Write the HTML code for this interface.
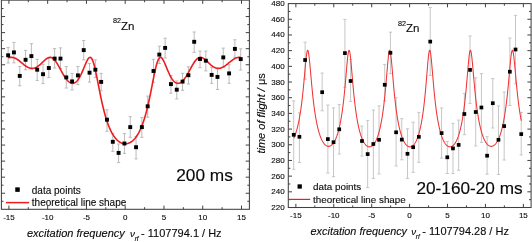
<!DOCTYPE html>
<html><head><meta charset="utf-8"><style>
html,body{margin:0;padding:0;background:#fff;}
svg{display:block;will-change:transform;filter:blur(0.3px);}
text{font-family:"Liberation Sans", sans-serif;fill:#0a0a0a;stroke:#0a0a0a;stroke-width:0.12px;}
</style></head><body>
<svg width="532" height="242" viewBox="0 0 532 242">
<rect width="532" height="242" fill="#fff"/>
<rect x="1.4" y="0.15" width="248" height="209.15" fill="none" stroke="#404040" stroke-width="1.05"/>
<line x1="8.91" y1="209.3" x2="8.91" y2="205.6" stroke="#404040" stroke-width="1.0"/>
<line x1="8.91" y1="0.15" x2="8.91" y2="3.85" stroke="#404040" stroke-width="1.0"/>
<line x1="28.29" y1="209.3" x2="28.29" y2="207.2" stroke="#404040" stroke-width="1.0"/>
<line x1="28.29" y1="0.15" x2="28.29" y2="2.25" stroke="#404040" stroke-width="1.0"/>
<line x1="47.67" y1="209.3" x2="47.67" y2="205.6" stroke="#404040" stroke-width="1.0"/>
<line x1="47.67" y1="0.15" x2="47.67" y2="3.85" stroke="#404040" stroke-width="1.0"/>
<line x1="67.05" y1="209.3" x2="67.05" y2="207.2" stroke="#404040" stroke-width="1.0"/>
<line x1="67.05" y1="0.15" x2="67.05" y2="2.25" stroke="#404040" stroke-width="1.0"/>
<line x1="86.44" y1="209.3" x2="86.44" y2="205.6" stroke="#404040" stroke-width="1.0"/>
<line x1="86.44" y1="0.15" x2="86.44" y2="3.85" stroke="#404040" stroke-width="1.0"/>
<line x1="105.82" y1="209.3" x2="105.82" y2="207.2" stroke="#404040" stroke-width="1.0"/>
<line x1="105.82" y1="0.15" x2="105.82" y2="2.25" stroke="#404040" stroke-width="1.0"/>
<line x1="125.2" y1="209.3" x2="125.2" y2="205.6" stroke="#404040" stroke-width="1.0"/>
<line x1="125.2" y1="0.15" x2="125.2" y2="3.85" stroke="#404040" stroke-width="1.0"/>
<line x1="144.58" y1="209.3" x2="144.58" y2="207.2" stroke="#404040" stroke-width="1.0"/>
<line x1="144.58" y1="0.15" x2="144.58" y2="2.25" stroke="#404040" stroke-width="1.0"/>
<line x1="163.97" y1="209.3" x2="163.97" y2="205.6" stroke="#404040" stroke-width="1.0"/>
<line x1="163.97" y1="0.15" x2="163.97" y2="3.85" stroke="#404040" stroke-width="1.0"/>
<line x1="183.35" y1="209.3" x2="183.35" y2="207.2" stroke="#404040" stroke-width="1.0"/>
<line x1="183.35" y1="0.15" x2="183.35" y2="2.25" stroke="#404040" stroke-width="1.0"/>
<line x1="202.73" y1="209.3" x2="202.73" y2="205.6" stroke="#404040" stroke-width="1.0"/>
<line x1="202.73" y1="0.15" x2="202.73" y2="3.85" stroke="#404040" stroke-width="1.0"/>
<line x1="222.11" y1="209.3" x2="222.11" y2="207.2" stroke="#404040" stroke-width="1.0"/>
<line x1="222.11" y1="0.15" x2="222.11" y2="2.25" stroke="#404040" stroke-width="1.0"/>
<line x1="241.5" y1="209.3" x2="241.5" y2="205.6" stroke="#404040" stroke-width="1.0"/>
<line x1="241.5" y1="0.15" x2="241.5" y2="3.85" stroke="#404040" stroke-width="1.0"/>
<line x1="1.4" y1="8.53" x2="3.5" y2="8.53" stroke="#404040" stroke-width="1.0"/>
<line x1="249.4" y1="8.53" x2="247.3" y2="8.53" stroke="#404040" stroke-width="1.0"/>
<line x1="1.4" y1="16.56" x2="5.1" y2="16.56" stroke="#404040" stroke-width="1.0"/>
<line x1="249.4" y1="16.56" x2="245.7" y2="16.56" stroke="#404040" stroke-width="1.0"/>
<line x1="1.4" y1="24.59" x2="3.5" y2="24.59" stroke="#404040" stroke-width="1.0"/>
<line x1="249.4" y1="24.59" x2="247.3" y2="24.59" stroke="#404040" stroke-width="1.0"/>
<line x1="1.4" y1="32.62" x2="5.1" y2="32.62" stroke="#404040" stroke-width="1.0"/>
<line x1="249.4" y1="32.62" x2="245.7" y2="32.62" stroke="#404040" stroke-width="1.0"/>
<line x1="1.4" y1="40.65" x2="3.5" y2="40.65" stroke="#404040" stroke-width="1.0"/>
<line x1="249.4" y1="40.65" x2="247.3" y2="40.65" stroke="#404040" stroke-width="1.0"/>
<line x1="1.4" y1="48.68" x2="5.1" y2="48.68" stroke="#404040" stroke-width="1.0"/>
<line x1="249.4" y1="48.68" x2="245.7" y2="48.68" stroke="#404040" stroke-width="1.0"/>
<line x1="1.4" y1="56.72" x2="3.5" y2="56.72" stroke="#404040" stroke-width="1.0"/>
<line x1="249.4" y1="56.72" x2="247.3" y2="56.72" stroke="#404040" stroke-width="1.0"/>
<line x1="1.4" y1="64.75" x2="5.1" y2="64.75" stroke="#404040" stroke-width="1.0"/>
<line x1="249.4" y1="64.75" x2="245.7" y2="64.75" stroke="#404040" stroke-width="1.0"/>
<line x1="1.4" y1="72.78" x2="3.5" y2="72.78" stroke="#404040" stroke-width="1.0"/>
<line x1="249.4" y1="72.78" x2="247.3" y2="72.78" stroke="#404040" stroke-width="1.0"/>
<line x1="1.4" y1="80.81" x2="5.1" y2="80.81" stroke="#404040" stroke-width="1.0"/>
<line x1="249.4" y1="80.81" x2="245.7" y2="80.81" stroke="#404040" stroke-width="1.0"/>
<line x1="1.4" y1="88.84" x2="3.5" y2="88.84" stroke="#404040" stroke-width="1.0"/>
<line x1="249.4" y1="88.84" x2="247.3" y2="88.84" stroke="#404040" stroke-width="1.0"/>
<line x1="1.4" y1="96.87" x2="5.1" y2="96.87" stroke="#404040" stroke-width="1.0"/>
<line x1="249.4" y1="96.87" x2="245.7" y2="96.87" stroke="#404040" stroke-width="1.0"/>
<line x1="1.4" y1="104.9" x2="3.5" y2="104.9" stroke="#404040" stroke-width="1.0"/>
<line x1="249.4" y1="104.9" x2="247.3" y2="104.9" stroke="#404040" stroke-width="1.0"/>
<line x1="1.4" y1="112.93" x2="5.1" y2="112.93" stroke="#404040" stroke-width="1.0"/>
<line x1="249.4" y1="112.93" x2="245.7" y2="112.93" stroke="#404040" stroke-width="1.0"/>
<line x1="1.4" y1="120.96" x2="3.5" y2="120.96" stroke="#404040" stroke-width="1.0"/>
<line x1="249.4" y1="120.96" x2="247.3" y2="120.96" stroke="#404040" stroke-width="1.0"/>
<line x1="1.4" y1="128.99" x2="5.1" y2="128.99" stroke="#404040" stroke-width="1.0"/>
<line x1="249.4" y1="128.99" x2="245.7" y2="128.99" stroke="#404040" stroke-width="1.0"/>
<line x1="1.4" y1="137.02" x2="3.5" y2="137.02" stroke="#404040" stroke-width="1.0"/>
<line x1="249.4" y1="137.02" x2="247.3" y2="137.02" stroke="#404040" stroke-width="1.0"/>
<line x1="1.4" y1="145.05" x2="5.1" y2="145.05" stroke="#404040" stroke-width="1.0"/>
<line x1="249.4" y1="145.05" x2="245.7" y2="145.05" stroke="#404040" stroke-width="1.0"/>
<line x1="1.4" y1="153.08" x2="3.5" y2="153.08" stroke="#404040" stroke-width="1.0"/>
<line x1="249.4" y1="153.08" x2="247.3" y2="153.08" stroke="#404040" stroke-width="1.0"/>
<line x1="1.4" y1="161.12" x2="5.1" y2="161.12" stroke="#404040" stroke-width="1.0"/>
<line x1="249.4" y1="161.12" x2="245.7" y2="161.12" stroke="#404040" stroke-width="1.0"/>
<line x1="1.4" y1="169.15" x2="3.5" y2="169.15" stroke="#404040" stroke-width="1.0"/>
<line x1="249.4" y1="169.15" x2="247.3" y2="169.15" stroke="#404040" stroke-width="1.0"/>
<line x1="1.4" y1="177.18" x2="5.1" y2="177.18" stroke="#404040" stroke-width="1.0"/>
<line x1="249.4" y1="177.18" x2="245.7" y2="177.18" stroke="#404040" stroke-width="1.0"/>
<line x1="1.4" y1="185.21" x2="3.5" y2="185.21" stroke="#404040" stroke-width="1.0"/>
<line x1="249.4" y1="185.21" x2="247.3" y2="185.21" stroke="#404040" stroke-width="1.0"/>
<line x1="1.4" y1="193.24" x2="5.1" y2="193.24" stroke="#404040" stroke-width="1.0"/>
<line x1="249.4" y1="193.24" x2="245.7" y2="193.24" stroke="#404040" stroke-width="1.0"/>
<line x1="1.4" y1="201.27" x2="3.5" y2="201.27" stroke="#404040" stroke-width="1.0"/>
<line x1="249.4" y1="201.27" x2="247.3" y2="201.27" stroke="#404040" stroke-width="1.0"/>
<line x1="8.13" y1="47.4" x2="8.13" y2="63" stroke="#bababa" stroke-width="1.0"/>
<line x1="6.53" y1="47.4" x2="9.73" y2="47.4" stroke="#bababa" stroke-width="1.0"/>
<line x1="6.53" y1="63" x2="9.73" y2="63" stroke="#bababa" stroke-width="1.0"/>
<line x1="13.94" y1="42.4" x2="13.94" y2="62.8" stroke="#bababa" stroke-width="1.0"/>
<line x1="12.34" y1="42.4" x2="15.54" y2="42.4" stroke="#bababa" stroke-width="1.0"/>
<line x1="12.34" y1="62.8" x2="15.54" y2="62.8" stroke="#bababa" stroke-width="1.0"/>
<line x1="19.76" y1="66.5" x2="19.76" y2="85.8" stroke="#bababa" stroke-width="1.0"/>
<line x1="18.16" y1="66.5" x2="21.36" y2="66.5" stroke="#bababa" stroke-width="1.0"/>
<line x1="18.16" y1="85.8" x2="21.36" y2="85.8" stroke="#bababa" stroke-width="1.0"/>
<line x1="25.57" y1="50.4" x2="25.57" y2="69.7" stroke="#bababa" stroke-width="1.0"/>
<line x1="23.97" y1="50.4" x2="27.17" y2="50.4" stroke="#bababa" stroke-width="1.0"/>
<line x1="23.97" y1="69.7" x2="27.17" y2="69.7" stroke="#bababa" stroke-width="1.0"/>
<line x1="31.39" y1="43.7" x2="31.39" y2="69" stroke="#bababa" stroke-width="1.0"/>
<line x1="29.79" y1="43.7" x2="32.99" y2="43.7" stroke="#bababa" stroke-width="1.0"/>
<line x1="29.79" y1="69" x2="32.99" y2="69" stroke="#bababa" stroke-width="1.0"/>
<line x1="37.2" y1="59.3" x2="37.2" y2="80.4" stroke="#bababa" stroke-width="1.0"/>
<line x1="35.6" y1="59.3" x2="38.8" y2="59.3" stroke="#bababa" stroke-width="1.0"/>
<line x1="35.6" y1="80.4" x2="38.8" y2="80.4" stroke="#bababa" stroke-width="1.0"/>
<line x1="43.02" y1="64.3" x2="43.02" y2="83.6" stroke="#bababa" stroke-width="1.0"/>
<line x1="41.42" y1="64.3" x2="44.62" y2="64.3" stroke="#bababa" stroke-width="1.0"/>
<line x1="41.42" y1="83.6" x2="44.62" y2="83.6" stroke="#bababa" stroke-width="1.0"/>
<line x1="48.83" y1="58.3" x2="48.83" y2="77.6" stroke="#bababa" stroke-width="1.0"/>
<line x1="47.23" y1="58.3" x2="50.43" y2="58.3" stroke="#bababa" stroke-width="1.0"/>
<line x1="47.23" y1="77.6" x2="50.43" y2="77.6" stroke="#bababa" stroke-width="1.0"/>
<line x1="54.65" y1="48.6" x2="54.65" y2="68" stroke="#bababa" stroke-width="1.0"/>
<line x1="53.05" y1="48.6" x2="56.25" y2="48.6" stroke="#bababa" stroke-width="1.0"/>
<line x1="53.05" y1="68" x2="56.25" y2="68" stroke="#bababa" stroke-width="1.0"/>
<line x1="60.46" y1="47.9" x2="60.46" y2="68.5" stroke="#bababa" stroke-width="1.0"/>
<line x1="58.86" y1="47.9" x2="62.06" y2="47.9" stroke="#bababa" stroke-width="1.0"/>
<line x1="58.86" y1="68.5" x2="62.06" y2="68.5" stroke="#bababa" stroke-width="1.0"/>
<line x1="66.28" y1="66.6" x2="66.28" y2="88" stroke="#bababa" stroke-width="1.0"/>
<line x1="64.68" y1="66.6" x2="67.88" y2="66.6" stroke="#bababa" stroke-width="1.0"/>
<line x1="64.68" y1="88" x2="67.88" y2="88" stroke="#bababa" stroke-width="1.0"/>
<line x1="72.09" y1="73.4" x2="72.09" y2="90" stroke="#bababa" stroke-width="1.0"/>
<line x1="70.49" y1="73.4" x2="73.69" y2="73.4" stroke="#bababa" stroke-width="1.0"/>
<line x1="70.49" y1="90" x2="73.69" y2="90" stroke="#bababa" stroke-width="1.0"/>
<line x1="77.91" y1="66.5" x2="77.91" y2="84.6" stroke="#bababa" stroke-width="1.0"/>
<line x1="76.31" y1="66.5" x2="79.51" y2="66.5" stroke="#bababa" stroke-width="1.0"/>
<line x1="76.31" y1="84.6" x2="79.51" y2="84.6" stroke="#bababa" stroke-width="1.0"/>
<line x1="83.72" y1="40.5" x2="83.72" y2="59.8" stroke="#bababa" stroke-width="1.0"/>
<line x1="82.12" y1="40.5" x2="85.32" y2="40.5" stroke="#bababa" stroke-width="1.0"/>
<line x1="82.12" y1="59.8" x2="85.32" y2="59.8" stroke="#bababa" stroke-width="1.0"/>
<line x1="89.54" y1="63.5" x2="89.54" y2="82.1" stroke="#bababa" stroke-width="1.0"/>
<line x1="87.94" y1="63.5" x2="91.14" y2="63.5" stroke="#bababa" stroke-width="1.0"/>
<line x1="87.94" y1="82.1" x2="91.14" y2="82.1" stroke="#bababa" stroke-width="1.0"/>
<line x1="95.35" y1="59.8" x2="95.35" y2="77.6" stroke="#bababa" stroke-width="1.0"/>
<line x1="93.75" y1="59.8" x2="96.95" y2="59.8" stroke="#bababa" stroke-width="1.0"/>
<line x1="93.75" y1="77.6" x2="96.95" y2="77.6" stroke="#bababa" stroke-width="1.0"/>
<line x1="101.17" y1="73.4" x2="101.17" y2="90.8" stroke="#bababa" stroke-width="1.0"/>
<line x1="99.57" y1="73.4" x2="102.77" y2="73.4" stroke="#bababa" stroke-width="1.0"/>
<line x1="99.57" y1="90.8" x2="102.77" y2="90.8" stroke="#bababa" stroke-width="1.0"/>
<line x1="106.98" y1="109.8" x2="106.98" y2="131.3" stroke="#bababa" stroke-width="1.0"/>
<line x1="105.38" y1="109.8" x2="108.58" y2="109.8" stroke="#bababa" stroke-width="1.0"/>
<line x1="105.38" y1="131.3" x2="108.58" y2="131.3" stroke="#bababa" stroke-width="1.0"/>
<line x1="112.8" y1="133.6" x2="112.8" y2="151.4" stroke="#bababa" stroke-width="1.0"/>
<line x1="111.2" y1="133.6" x2="114.4" y2="133.6" stroke="#bababa" stroke-width="1.0"/>
<line x1="111.2" y1="151.4" x2="114.4" y2="151.4" stroke="#bababa" stroke-width="1.0"/>
<line x1="118.61" y1="144" x2="118.61" y2="162.6" stroke="#bababa" stroke-width="1.0"/>
<line x1="117.01" y1="144" x2="120.21" y2="144" stroke="#bababa" stroke-width="1.0"/>
<line x1="117.01" y1="162.6" x2="120.21" y2="162.6" stroke="#bababa" stroke-width="1.0"/>
<line x1="124.42" y1="133.6" x2="124.42" y2="153.4" stroke="#bababa" stroke-width="1.0"/>
<line x1="122.82" y1="133.6" x2="126.02" y2="133.6" stroke="#bababa" stroke-width="1.0"/>
<line x1="122.82" y1="153.4" x2="126.02" y2="153.4" stroke="#bababa" stroke-width="1.0"/>
<line x1="130.24" y1="116.7" x2="130.24" y2="137.3" stroke="#bababa" stroke-width="1.0"/>
<line x1="128.64" y1="116.7" x2="131.84" y2="116.7" stroke="#bababa" stroke-width="1.0"/>
<line x1="128.64" y1="137.3" x2="131.84" y2="137.3" stroke="#bababa" stroke-width="1.0"/>
<line x1="136.05" y1="136.6" x2="136.05" y2="158.9" stroke="#bababa" stroke-width="1.0"/>
<line x1="134.45" y1="136.6" x2="137.65" y2="136.6" stroke="#bababa" stroke-width="1.0"/>
<line x1="134.45" y1="158.9" x2="137.65" y2="158.9" stroke="#bababa" stroke-width="1.0"/>
<line x1="141.87" y1="117.5" x2="141.87" y2="137.3" stroke="#bababa" stroke-width="1.0"/>
<line x1="140.27" y1="117.5" x2="143.47" y2="117.5" stroke="#bababa" stroke-width="1.0"/>
<line x1="140.27" y1="137.3" x2="143.47" y2="137.3" stroke="#bababa" stroke-width="1.0"/>
<line x1="147.68" y1="96.1" x2="147.68" y2="117.2" stroke="#bababa" stroke-width="1.0"/>
<line x1="146.08" y1="96.1" x2="149.28" y2="96.1" stroke="#bababa" stroke-width="1.0"/>
<line x1="146.08" y1="117.2" x2="149.28" y2="117.2" stroke="#bababa" stroke-width="1.0"/>
<line x1="153.5" y1="59.3" x2="153.5" y2="82.6" stroke="#bababa" stroke-width="1.0"/>
<line x1="151.9" y1="59.3" x2="155.1" y2="59.3" stroke="#bababa" stroke-width="1.0"/>
<line x1="151.9" y1="82.6" x2="155.1" y2="82.6" stroke="#bababa" stroke-width="1.0"/>
<line x1="159.31" y1="46.2" x2="159.31" y2="63.5" stroke="#bababa" stroke-width="1.0"/>
<line x1="157.71" y1="46.2" x2="160.91" y2="46.2" stroke="#bababa" stroke-width="1.0"/>
<line x1="157.71" y1="63.5" x2="160.91" y2="63.5" stroke="#bababa" stroke-width="1.0"/>
<line x1="165.13" y1="38.2" x2="165.13" y2="58" stroke="#bababa" stroke-width="1.0"/>
<line x1="163.53" y1="38.2" x2="166.73" y2="38.2" stroke="#bababa" stroke-width="1.0"/>
<line x1="163.53" y1="58" x2="166.73" y2="58" stroke="#bababa" stroke-width="1.0"/>
<line x1="170.94" y1="75.5" x2="170.94" y2="93.2" stroke="#bababa" stroke-width="1.0"/>
<line x1="169.34" y1="75.5" x2="172.54" y2="75.5" stroke="#bababa" stroke-width="1.0"/>
<line x1="169.34" y1="93.2" x2="172.54" y2="93.2" stroke="#bababa" stroke-width="1.0"/>
<line x1="176.76" y1="81" x2="176.76" y2="98.9" stroke="#bababa" stroke-width="1.0"/>
<line x1="175.16" y1="81" x2="178.36" y2="81" stroke="#bababa" stroke-width="1.0"/>
<line x1="175.16" y1="98.9" x2="178.36" y2="98.9" stroke="#bababa" stroke-width="1.0"/>
<line x1="182.57" y1="73.3" x2="182.57" y2="90.3" stroke="#bababa" stroke-width="1.0"/>
<line x1="180.97" y1="73.3" x2="184.17" y2="73.3" stroke="#bababa" stroke-width="1.0"/>
<line x1="180.97" y1="90.3" x2="184.17" y2="90.3" stroke="#bababa" stroke-width="1.0"/>
<line x1="188.39" y1="66.8" x2="188.39" y2="84" stroke="#bababa" stroke-width="1.0"/>
<line x1="186.79" y1="66.8" x2="189.99" y2="66.8" stroke="#bababa" stroke-width="1.0"/>
<line x1="186.79" y1="84" x2="189.99" y2="84" stroke="#bababa" stroke-width="1.0"/>
<line x1="194.2" y1="32" x2="194.2" y2="52.4" stroke="#bababa" stroke-width="1.0"/>
<line x1="192.6" y1="32" x2="195.8" y2="32" stroke="#bababa" stroke-width="1.0"/>
<line x1="192.6" y1="52.4" x2="195.8" y2="52.4" stroke="#bababa" stroke-width="1.0"/>
<line x1="200.02" y1="51.1" x2="200.02" y2="67.7" stroke="#bababa" stroke-width="1.0"/>
<line x1="198.42" y1="51.1" x2="201.62" y2="51.1" stroke="#bababa" stroke-width="1.0"/>
<line x1="198.42" y1="67.7" x2="201.62" y2="67.7" stroke="#bababa" stroke-width="1.0"/>
<line x1="205.83" y1="51.1" x2="205.83" y2="70.9" stroke="#bababa" stroke-width="1.0"/>
<line x1="204.23" y1="51.1" x2="207.43" y2="51.1" stroke="#bababa" stroke-width="1.0"/>
<line x1="204.23" y1="70.9" x2="207.43" y2="70.9" stroke="#bababa" stroke-width="1.0"/>
<line x1="211.65" y1="67.2" x2="211.65" y2="83.3" stroke="#bababa" stroke-width="1.0"/>
<line x1="210.05" y1="67.2" x2="213.25" y2="67.2" stroke="#bababa" stroke-width="1.0"/>
<line x1="210.05" y1="83.3" x2="213.25" y2="83.3" stroke="#bababa" stroke-width="1.0"/>
<line x1="217.46" y1="68.4" x2="217.46" y2="89.5" stroke="#bababa" stroke-width="1.0"/>
<line x1="215.86" y1="68.4" x2="219.06" y2="68.4" stroke="#bababa" stroke-width="1.0"/>
<line x1="215.86" y1="89.5" x2="219.06" y2="89.5" stroke="#bababa" stroke-width="1.0"/>
<line x1="223.28" y1="48.1" x2="223.28" y2="67.2" stroke="#bababa" stroke-width="1.0"/>
<line x1="221.68" y1="48.1" x2="224.88" y2="48.1" stroke="#bababa" stroke-width="1.0"/>
<line x1="221.68" y1="67.2" x2="224.88" y2="67.2" stroke="#bababa" stroke-width="1.0"/>
<line x1="229.09" y1="64.7" x2="229.09" y2="83.3" stroke="#bababa" stroke-width="1.0"/>
<line x1="227.49" y1="64.7" x2="230.69" y2="64.7" stroke="#bababa" stroke-width="1.0"/>
<line x1="227.49" y1="83.3" x2="230.69" y2="83.3" stroke="#bababa" stroke-width="1.0"/>
<line x1="234.9" y1="39.8" x2="234.9" y2="57.3" stroke="#bababa" stroke-width="1.0"/>
<line x1="233.3" y1="39.8" x2="236.5" y2="39.8" stroke="#bababa" stroke-width="1.0"/>
<line x1="233.3" y1="57.3" x2="236.5" y2="57.3" stroke="#bababa" stroke-width="1.0"/>
<line x1="240.72" y1="48.8" x2="240.72" y2="70" stroke="#bababa" stroke-width="1.0"/>
<line x1="239.12" y1="48.8" x2="242.32" y2="48.8" stroke="#bababa" stroke-width="1.0"/>
<line x1="239.12" y1="70" x2="242.32" y2="70" stroke="#bababa" stroke-width="1.0"/>
<line x1="293.73" y1="100.9" x2="293.73" y2="169.3" stroke="#c6c6c6" stroke-width="1.0"/>
<line x1="292.13" y1="100.9" x2="295.33" y2="100.9" stroke="#c6c6c6" stroke-width="1.0"/>
<line x1="292.13" y1="169.3" x2="295.33" y2="169.3" stroke="#c6c6c6" stroke-width="1.0"/>
<line x1="299.42" y1="112.8" x2="299.42" y2="162.5" stroke="#c6c6c6" stroke-width="1.0"/>
<line x1="297.82" y1="112.8" x2="301.02" y2="112.8" stroke="#c6c6c6" stroke-width="1.0"/>
<line x1="297.82" y1="162.5" x2="301.02" y2="162.5" stroke="#c6c6c6" stroke-width="1.0"/>
<line x1="305.11" y1="42.2" x2="305.11" y2="79.2" stroke="#c6c6c6" stroke-width="1.0"/>
<line x1="303.51" y1="42.2" x2="306.71" y2="42.2" stroke="#c6c6c6" stroke-width="1.0"/>
<line x1="303.51" y1="79.2" x2="306.71" y2="79.2" stroke="#c6c6c6" stroke-width="1.0"/>
<line x1="322.17" y1="73.1" x2="322.17" y2="110.8" stroke="#c6c6c6" stroke-width="1.0"/>
<line x1="320.57" y1="73.1" x2="323.77" y2="73.1" stroke="#c6c6c6" stroke-width="1.0"/>
<line x1="320.57" y1="110.8" x2="323.77" y2="110.8" stroke="#c6c6c6" stroke-width="1.0"/>
<line x1="327.86" y1="105.1" x2="327.86" y2="173" stroke="#c6c6c6" stroke-width="1.0"/>
<line x1="326.26" y1="105.1" x2="329.46" y2="105.1" stroke="#c6c6c6" stroke-width="1.0"/>
<line x1="326.26" y1="173" x2="329.46" y2="173" stroke="#c6c6c6" stroke-width="1.0"/>
<line x1="333.54" y1="107.9" x2="333.54" y2="176.7" stroke="#c6c6c6" stroke-width="1.0"/>
<line x1="331.94" y1="107.9" x2="335.14" y2="107.9" stroke="#c6c6c6" stroke-width="1.0"/>
<line x1="331.94" y1="176.7" x2="335.14" y2="176.7" stroke="#c6c6c6" stroke-width="1.0"/>
<line x1="339.23" y1="104.6" x2="339.23" y2="154" stroke="#c6c6c6" stroke-width="1.0"/>
<line x1="337.63" y1="104.6" x2="340.83" y2="104.6" stroke="#c6c6c6" stroke-width="1.0"/>
<line x1="337.63" y1="154" x2="340.83" y2="154" stroke="#c6c6c6" stroke-width="1.0"/>
<line x1="344.92" y1="19.4" x2="344.92" y2="87.3" stroke="#c6c6c6" stroke-width="1.0"/>
<line x1="343.32" y1="19.4" x2="346.52" y2="19.4" stroke="#c6c6c6" stroke-width="1.0"/>
<line x1="343.32" y1="87.3" x2="346.52" y2="87.3" stroke="#c6c6c6" stroke-width="1.0"/>
<line x1="350.6" y1="59.6" x2="350.6" y2="101.4" stroke="#c6c6c6" stroke-width="1.0"/>
<line x1="349" y1="59.6" x2="352.2" y2="59.6" stroke="#c6c6c6" stroke-width="1.0"/>
<line x1="349" y1="101.4" x2="352.2" y2="101.4" stroke="#c6c6c6" stroke-width="1.0"/>
<line x1="361.98" y1="126.1" x2="361.98" y2="156" stroke="#c6c6c6" stroke-width="1.0"/>
<line x1="360.38" y1="126.1" x2="363.58" y2="126.1" stroke="#c6c6c6" stroke-width="1.0"/>
<line x1="360.38" y1="156" x2="363.58" y2="156" stroke="#c6c6c6" stroke-width="1.0"/>
<line x1="367.67" y1="120.4" x2="367.67" y2="187.6" stroke="#c6c6c6" stroke-width="1.0"/>
<line x1="366.07" y1="120.4" x2="369.27" y2="120.4" stroke="#c6c6c6" stroke-width="1.0"/>
<line x1="366.07" y1="187.6" x2="369.27" y2="187.6" stroke="#c6c6c6" stroke-width="1.0"/>
<line x1="373.35" y1="110" x2="373.35" y2="178.4" stroke="#c6c6c6" stroke-width="1.0"/>
<line x1="371.75" y1="110" x2="374.95" y2="110" stroke="#c6c6c6" stroke-width="1.0"/>
<line x1="371.75" y1="178.4" x2="374.95" y2="178.4" stroke="#c6c6c6" stroke-width="1.0"/>
<line x1="379.04" y1="105.9" x2="379.04" y2="174" stroke="#c6c6c6" stroke-width="1.0"/>
<line x1="377.44" y1="105.9" x2="380.64" y2="105.9" stroke="#c6c6c6" stroke-width="1.0"/>
<line x1="377.44" y1="174" x2="380.64" y2="174" stroke="#c6c6c6" stroke-width="1.0"/>
<line x1="384.73" y1="64.4" x2="384.73" y2="100.9" stroke="#c6c6c6" stroke-width="1.0"/>
<line x1="383.13" y1="64.4" x2="386.33" y2="64.4" stroke="#c6c6c6" stroke-width="1.0"/>
<line x1="383.13" y1="100.9" x2="386.33" y2="100.9" stroke="#c6c6c6" stroke-width="1.0"/>
<line x1="390.42" y1="32.2" x2="390.42" y2="73.6" stroke="#c6c6c6" stroke-width="1.0"/>
<line x1="388.82" y1="32.2" x2="392.02" y2="32.2" stroke="#c6c6c6" stroke-width="1.0"/>
<line x1="388.82" y1="73.6" x2="392.02" y2="73.6" stroke="#c6c6c6" stroke-width="1.0"/>
<line x1="396.1" y1="97.7" x2="396.1" y2="166" stroke="#c6c6c6" stroke-width="1.0"/>
<line x1="394.5" y1="97.7" x2="397.7" y2="97.7" stroke="#c6c6c6" stroke-width="1.0"/>
<line x1="394.5" y1="166" x2="397.7" y2="166" stroke="#c6c6c6" stroke-width="1.0"/>
<line x1="401.79" y1="118.7" x2="401.79" y2="159.8" stroke="#c6c6c6" stroke-width="1.0"/>
<line x1="400.19" y1="118.7" x2="403.39" y2="118.7" stroke="#c6c6c6" stroke-width="1.0"/>
<line x1="400.19" y1="159.8" x2="403.39" y2="159.8" stroke="#c6c6c6" stroke-width="1.0"/>
<line x1="407.48" y1="128.8" x2="407.48" y2="178.4" stroke="#c6c6c6" stroke-width="1.0"/>
<line x1="405.88" y1="128.8" x2="409.08" y2="128.8" stroke="#c6c6c6" stroke-width="1.0"/>
<line x1="405.88" y1="178.4" x2="409.08" y2="178.4" stroke="#c6c6c6" stroke-width="1.0"/>
<line x1="413.16" y1="122.2" x2="413.16" y2="172.3" stroke="#c6c6c6" stroke-width="1.0"/>
<line x1="411.56" y1="122.2" x2="414.76" y2="122.2" stroke="#c6c6c6" stroke-width="1.0"/>
<line x1="411.56" y1="172.3" x2="414.76" y2="172.3" stroke="#c6c6c6" stroke-width="1.0"/>
<line x1="418.85" y1="112.4" x2="418.85" y2="162.3" stroke="#c6c6c6" stroke-width="1.0"/>
<line x1="417.25" y1="112.4" x2="420.45" y2="112.4" stroke="#c6c6c6" stroke-width="1.0"/>
<line x1="417.25" y1="162.3" x2="420.45" y2="162.3" stroke="#c6c6c6" stroke-width="1.0"/>
<line x1="430.23" y1="7.4" x2="430.23" y2="75.3" stroke="#c6c6c6" stroke-width="1.0"/>
<line x1="428.63" y1="7.4" x2="431.83" y2="7.4" stroke="#c6c6c6" stroke-width="1.0"/>
<line x1="428.63" y1="75.3" x2="431.83" y2="75.3" stroke="#c6c6c6" stroke-width="1.0"/>
<line x1="441.6" y1="108" x2="441.6" y2="158.2" stroke="#c6c6c6" stroke-width="1.0"/>
<line x1="440" y1="108" x2="443.2" y2="108" stroke="#c6c6c6" stroke-width="1.0"/>
<line x1="440" y1="158.2" x2="443.2" y2="158.2" stroke="#c6c6c6" stroke-width="1.0"/>
<line x1="447.29" y1="141.5" x2="447.29" y2="173.5" stroke="#c6c6c6" stroke-width="1.0"/>
<line x1="445.69" y1="141.5" x2="448.89" y2="141.5" stroke="#c6c6c6" stroke-width="1.0"/>
<line x1="445.69" y1="173.5" x2="448.89" y2="173.5" stroke="#c6c6c6" stroke-width="1.0"/>
<line x1="452.97" y1="123.4" x2="452.97" y2="173.5" stroke="#c6c6c6" stroke-width="1.0"/>
<line x1="451.37" y1="123.4" x2="454.57" y2="123.4" stroke="#c6c6c6" stroke-width="1.0"/>
<line x1="451.37" y1="173.5" x2="454.57" y2="173.5" stroke="#c6c6c6" stroke-width="1.0"/>
<line x1="458.66" y1="120.1" x2="458.66" y2="170.2" stroke="#c6c6c6" stroke-width="1.0"/>
<line x1="457.06" y1="120.1" x2="460.26" y2="120.1" stroke="#c6c6c6" stroke-width="1.0"/>
<line x1="457.06" y1="170.2" x2="460.26" y2="170.2" stroke="#c6c6c6" stroke-width="1.0"/>
<line x1="464.35" y1="93.4" x2="464.35" y2="134.7" stroke="#c6c6c6" stroke-width="1.0"/>
<line x1="462.75" y1="93.4" x2="465.95" y2="93.4" stroke="#c6c6c6" stroke-width="1.0"/>
<line x1="462.75" y1="134.7" x2="465.95" y2="134.7" stroke="#c6c6c6" stroke-width="1.0"/>
<line x1="470.04" y1="36" x2="470.04" y2="103.4" stroke="#c6c6c6" stroke-width="1.0"/>
<line x1="468.44" y1="36" x2="471.64" y2="36" stroke="#c6c6c6" stroke-width="1.0"/>
<line x1="468.44" y1="103.4" x2="471.64" y2="103.4" stroke="#c6c6c6" stroke-width="1.0"/>
<line x1="475.72" y1="77.8" x2="475.72" y2="146" stroke="#c6c6c6" stroke-width="1.0"/>
<line x1="474.12" y1="77.8" x2="477.32" y2="77.8" stroke="#c6c6c6" stroke-width="1.0"/>
<line x1="474.12" y1="146" x2="477.32" y2="146" stroke="#c6c6c6" stroke-width="1.0"/>
<line x1="481.41" y1="73.6" x2="481.41" y2="142.4" stroke="#c6c6c6" stroke-width="1.0"/>
<line x1="479.81" y1="73.6" x2="483.01" y2="73.6" stroke="#c6c6c6" stroke-width="1.0"/>
<line x1="479.81" y1="142.4" x2="483.01" y2="142.4" stroke="#c6c6c6" stroke-width="1.0"/>
<line x1="487.1" y1="136.7" x2="487.1" y2="174.2" stroke="#c6c6c6" stroke-width="1.0"/>
<line x1="485.5" y1="136.7" x2="488.7" y2="136.7" stroke="#c6c6c6" stroke-width="1.0"/>
<line x1="485.5" y1="174.2" x2="488.7" y2="174.2" stroke="#c6c6c6" stroke-width="1.0"/>
<line x1="492.79" y1="78.6" x2="492.79" y2="128" stroke="#c6c6c6" stroke-width="1.0"/>
<line x1="491.19" y1="78.6" x2="494.39" y2="78.6" stroke="#c6c6c6" stroke-width="1.0"/>
<line x1="491.19" y1="128" x2="494.39" y2="128" stroke="#c6c6c6" stroke-width="1.0"/>
<line x1="498.47" y1="106" x2="498.47" y2="174.5" stroke="#c6c6c6" stroke-width="1.0"/>
<line x1="496.87" y1="106" x2="500.07" y2="106" stroke="#c6c6c6" stroke-width="1.0"/>
<line x1="496.87" y1="174.5" x2="500.07" y2="174.5" stroke="#c6c6c6" stroke-width="1.0"/>
<line x1="504.16" y1="92.1" x2="504.16" y2="160" stroke="#c6c6c6" stroke-width="1.0"/>
<line x1="502.56" y1="92.1" x2="505.76" y2="92.1" stroke="#c6c6c6" stroke-width="1.0"/>
<line x1="502.56" y1="160" x2="505.76" y2="160" stroke="#c6c6c6" stroke-width="1.0"/>
<line x1="509.85" y1="38" x2="509.85" y2="105.5" stroke="#c6c6c6" stroke-width="1.0"/>
<line x1="508.25" y1="38" x2="511.45" y2="38" stroke="#c6c6c6" stroke-width="1.0"/>
<line x1="508.25" y1="105.5" x2="511.45" y2="105.5" stroke="#c6c6c6" stroke-width="1.0"/>
<line x1="515.53" y1="15.4" x2="515.53" y2="83.8" stroke="#c6c6c6" stroke-width="1.0"/>
<line x1="513.93" y1="15.4" x2="517.13" y2="15.4" stroke="#c6c6c6" stroke-width="1.0"/>
<line x1="513.93" y1="83.8" x2="517.13" y2="83.8" stroke="#c6c6c6" stroke-width="1.0"/>
<line x1="521.22" y1="112.4" x2="521.22" y2="154.9" stroke="#c6c6c6" stroke-width="1.0"/>
<line x1="519.62" y1="112.4" x2="522.82" y2="112.4" stroke="#c6c6c6" stroke-width="1.0"/>
<line x1="519.62" y1="154.9" x2="522.82" y2="154.9" stroke="#c6c6c6" stroke-width="1.0"/>
<path d="M8.13,57.86 L8.46,57.76 L8.80,57.67 L9.13,57.60 L9.46,57.53 L9.79,57.47 L10.13,57.42 L10.46,57.39 L10.79,57.37 L11.12,57.36 L11.46,57.36 L11.79,57.37 L12.12,57.40 L12.46,57.44 L12.79,57.49 L13.12,57.56 L13.45,57.64 L13.79,57.73 L14.12,57.84 L14.45,57.95 L14.78,58.08 L15.12,58.23 L15.45,58.38 L15.78,58.55 L16.12,58.72 L16.45,58.91 L16.78,59.11 L17.11,59.31 L17.45,59.53 L17.78,59.75 L18.11,59.99 L18.44,60.23 L18.78,60.47 L19.11,60.73 L19.44,60.99 L19.78,61.25 L20.11,61.52 L20.44,61.79 L20.77,62.06 L21.11,62.33 L21.44,62.61 L21.77,62.89 L22.11,63.16 L22.44,63.44 L22.77,63.71 L23.10,63.99 L23.44,64.26 L23.77,64.52 L24.10,64.78 L24.43,65.04 L24.77,65.29 L25.10,65.53 L25.43,65.77 L25.77,66.00 L26.10,66.22 L26.43,66.44 L26.76,66.64 L27.10,66.84 L27.43,67.02 L27.76,67.20 L28.09,67.36 L28.43,67.52 L28.76,67.66 L29.09,67.79 L29.43,67.91 L29.76,68.01 L30.09,68.11 L30.42,68.19 L30.76,68.25 L31.09,68.31 L31.42,68.35 L31.75,68.37 L32.09,68.39 L32.42,68.38 L32.75,68.37 L33.09,68.34 L33.42,68.29 L33.75,68.24 L34.08,68.16 L34.42,68.08 L34.75,67.97 L35.08,67.86 L35.41,67.73 L35.75,67.59 L36.08,67.43 L36.41,67.26 L36.75,67.08 L37.08,66.88 L37.41,66.68 L37.74,66.46 L38.08,66.23 L38.41,65.98 L38.74,65.73 L39.08,65.47 L39.41,65.19 L39.74,64.91 L40.07,64.62 L40.41,64.33 L40.74,64.02 L41.07,63.71 L41.40,63.40 L41.74,63.08 L42.07,62.76 L42.40,62.44 L42.74,62.11 L43.07,61.79 L43.40,61.47 L43.73,61.15 L44.07,60.83 L44.40,60.52 L44.73,60.22 L45.06,59.92 L45.40,59.64 L45.73,59.36 L46.06,59.10 L46.40,58.85 L46.73,58.61 L47.06,58.39 L47.39,58.19 L47.73,58.01 L48.06,57.84 L48.39,57.70 L48.72,57.58 L49.06,57.49 L49.39,57.42 L49.72,57.37 L50.06,57.36 L50.39,57.37 L50.72,57.40 L51.05,57.47 L51.39,57.57 L51.72,57.69 L52.05,57.84 L52.39,58.03 L52.72,58.24 L53.05,58.48 L53.38,58.75 L53.72,59.05 L54.05,59.37 L54.38,59.73 L54.71,60.11 L55.05,60.51 L55.38,60.94 L55.71,61.39 L56.05,61.86 L56.38,62.35 L56.71,62.86 L57.04,63.38 L57.38,63.93 L57.71,64.48 L58.04,65.05 L58.37,65.63 L58.71,66.22 L59.04,66.82 L59.37,67.42 L59.71,68.03 L60.04,68.64 L60.37,69.26 L60.70,69.87 L61.04,70.48 L61.37,71.09 L61.70,71.70 L62.03,72.30 L62.37,72.90 L62.70,73.48 L63.03,74.06 L63.37,74.63 L63.70,75.18 L64.03,75.73 L64.36,76.26 L64.70,76.78 L65.03,77.28 L65.36,77.77 L65.69,78.24 L66.03,78.69 L66.36,79.13 L66.69,79.55 L67.03,79.94 L67.36,80.32 L67.69,80.68 L68.02,81.02 L68.36,81.34 L68.69,81.63 L69.02,81.90 L69.36,82.16 L69.69,82.38 L70.02,82.59 L70.35,82.77 L70.69,82.92 L71.02,83.06 L71.35,83.16 L71.68,83.25 L72.02,83.30 L72.35,83.33 L72.68,83.34 L73.02,83.32 L73.35,83.27 L73.68,83.20 L74.01,83.10 L74.35,82.97 L74.68,82.81 L75.01,82.63 L75.34,82.42 L75.68,82.18 L76.01,81.91 L76.34,81.62 L76.68,81.30 L77.01,80.95 L77.34,80.57 L77.67,80.16 L78.01,79.72 L78.34,79.26 L78.67,78.77 L79.00,78.25 L79.34,77.70 L79.67,77.13 L80.00,76.53 L80.34,75.91 L80.67,75.26 L81.00,74.59 L81.33,73.89 L81.67,73.18 L82.00,72.44 L82.33,71.68 L82.66,70.91 L83.00,70.13 L83.33,69.33 L83.66,68.53 L84.00,67.72 L84.33,66.90 L84.66,66.09 L84.99,65.28 L85.33,64.48 L85.66,63.70 L85.99,62.93 L86.33,62.19 L86.66,61.48 L86.99,60.81 L87.32,60.17 L87.66,59.59 L87.99,59.05 L88.32,58.58 L88.65,58.18 L88.99,57.85 L89.32,57.60 L89.65,57.43 L89.99,57.36 L90.32,57.38 L90.65,57.50 L90.98,57.72 L91.32,58.05 L91.65,58.48 L91.98,59.02 L92.31,59.67 L92.65,60.42 L92.98,61.28 L93.31,62.23 L93.65,63.28 L93.98,64.42 L94.31,65.65 L94.64,66.95 L94.98,68.33 L95.31,69.77 L95.64,71.27 L95.97,72.82 L96.31,74.42 L96.64,76.05 L96.97,77.71 L97.31,79.39 L97.64,81.09 L97.97,82.80 L98.30,84.51 L98.64,86.22 L98.97,87.93 L99.30,89.62 L99.64,91.31 L99.97,92.97 L100.30,94.62 L100.63,96.24 L100.97,97.84 L101.30,99.41 L101.63,100.95 L101.96,102.46 L102.30,103.93 L102.63,105.38 L102.96,106.79 L103.30,108.17 L103.63,109.51 L103.96,110.82 L104.29,112.10 L104.63,113.34 L104.96,114.54 L105.29,115.72 L105.62,116.86 L105.96,117.97 L106.29,119.04 L106.62,120.08 L106.96,121.09 L107.29,122.08 L107.62,123.03 L107.95,123.95 L108.29,124.84 L108.62,125.70 L108.95,126.54 L109.28,127.35 L109.62,128.13 L109.95,128.89 L110.28,129.62 L110.62,130.33 L110.95,131.01 L111.28,131.67 L111.61,132.31 L111.95,132.93 L112.28,133.52 L112.61,134.09 L112.94,134.64 L113.28,135.18 L113.61,135.69 L113.94,136.18 L114.28,136.65 L114.61,137.11 L114.94,137.55 L115.27,137.97 L115.61,138.37 L115.94,138.76 L116.27,139.13 L116.61,139.48 L116.94,139.82 L117.27,140.14 L117.60,140.45 L117.94,140.74 L118.27,141.02 L118.60,141.28 L118.93,141.53 L119.27,141.77 L119.60,141.99 L119.93,142.19 L120.27,142.39 L120.60,142.57 L120.93,142.74 L121.26,142.89 L121.60,143.03 L121.93,143.16 L122.26,143.28 L122.59,143.39 L122.93,143.48 L123.26,143.56 L123.59,143.63 L123.93,143.68 L124.26,143.72 L124.59,143.76 L124.92,143.78 L125.26,143.78 L125.59,143.78 L125.92,143.76 L126.25,143.73 L126.59,143.69 L126.92,143.64 L127.25,143.57 L127.59,143.50 L127.92,143.41 L128.25,143.31 L128.58,143.19 L128.92,143.06 L129.25,142.93 L129.58,142.77 L129.92,142.61 L130.25,142.43 L130.58,142.24 L130.91,142.03 L131.25,141.82 L131.58,141.58 L131.91,141.34 L132.24,141.08 L132.58,140.80 L132.91,140.52 L133.24,140.21 L133.58,139.89 L133.91,139.56 L134.24,139.21 L134.57,138.84 L134.91,138.46 L135.24,138.06 L135.57,137.64 L135.90,137.21 L136.24,136.76 L136.57,136.29 L136.90,135.80 L137.24,135.29 L137.57,134.76 L137.90,134.22 L138.23,133.65 L138.57,133.06 L138.90,132.45 L139.23,131.82 L139.56,131.16 L139.90,130.48 L140.23,129.78 L140.56,129.05 L140.90,128.30 L141.23,127.53 L141.56,126.72 L141.89,125.89 L142.23,125.03 L142.56,124.15 L142.89,123.23 L143.22,122.29 L143.56,121.32 L143.89,120.31 L144.22,119.28 L144.56,118.21 L144.89,117.11 L145.22,115.98 L145.55,114.81 L145.89,113.61 L146.22,112.38 L146.55,111.11 L146.89,109.81 L147.22,108.47 L147.55,107.10 L147.88,105.70 L148.22,104.26 L148.55,102.79 L148.88,101.29 L149.21,99.75 L149.55,98.19 L149.88,96.60 L150.21,94.98 L150.55,93.34 L150.88,91.68 L151.21,90.00 L151.54,88.31 L151.88,86.60 L152.21,84.89 L152.54,83.18 L152.87,81.47 L153.21,79.77 L153.54,78.08 L153.87,76.41 L154.21,74.78 L154.54,73.17 L154.87,71.61 L155.20,70.10 L155.54,68.65 L155.87,67.26 L156.20,65.93 L156.53,64.69 L156.87,63.53 L157.20,62.46 L157.53,61.48 L157.87,60.61 L158.20,59.83 L158.53,59.16 L158.86,58.60 L159.20,58.14 L159.53,57.79 L159.86,57.54 L160.19,57.40 L160.53,57.36 L160.86,57.41 L161.19,57.56 L161.53,57.79 L161.86,58.10 L162.19,58.49 L162.52,58.94 L162.86,59.46 L163.19,60.04 L163.52,60.66 L163.86,61.33 L164.19,62.03 L164.52,62.77 L164.85,63.53 L165.19,64.31 L165.52,65.10 L165.85,65.91 L166.18,66.72 L166.52,67.54 L166.85,68.35 L167.18,69.15 L167.52,69.95 L167.85,70.74 L168.18,71.51 L168.51,72.27 L168.85,73.01 L169.18,73.73 L169.51,74.43 L169.84,75.11 L170.18,75.77 L170.51,76.39 L170.84,77.00 L171.18,77.58 L171.51,78.13 L171.84,78.65 L172.17,79.15 L172.51,79.62 L172.84,80.06 L173.17,80.48 L173.50,80.86 L173.84,81.22 L174.17,81.55 L174.50,81.85 L174.84,82.12 L175.17,82.37 L175.50,82.58 L175.83,82.77 L176.17,82.94 L176.50,83.07 L176.83,83.18 L177.17,83.26 L177.50,83.31 L177.83,83.34 L178.16,83.34 L178.50,83.31 L178.83,83.26 L179.16,83.18 L179.49,83.08 L179.83,82.96 L180.16,82.80 L180.49,82.63 L180.83,82.43 L181.16,82.21 L181.49,81.96 L181.82,81.69 L182.16,81.40 L182.49,81.09 L182.82,80.76 L183.15,80.41 L183.49,80.03 L183.82,79.64 L184.15,79.22 L184.49,78.79 L184.82,78.34 L185.15,77.87 L185.48,77.39 L185.82,76.89 L186.15,76.38 L186.48,75.85 L186.81,75.31 L187.15,74.75 L187.48,74.19 L187.81,73.61 L188.15,73.03 L188.48,72.43 L188.81,71.83 L189.14,71.23 L189.48,70.62 L189.81,70.01 L190.14,69.40 L190.47,68.78 L190.81,68.17 L191.14,67.56 L191.47,66.95 L191.81,66.36 L192.14,65.76 L192.47,65.18 L192.80,64.61 L193.14,64.05 L193.47,63.50 L193.80,62.97 L194.14,62.46 L194.47,61.96 L194.80,61.49 L195.13,61.03 L195.47,60.60 L195.80,60.19 L196.13,59.81 L196.46,59.45 L196.80,59.12 L197.13,58.81 L197.46,58.54 L197.80,58.29 L198.13,58.07 L198.46,57.88 L198.79,57.72 L199.13,57.59 L199.46,57.49 L199.79,57.42 L200.12,57.37 L200.46,57.36 L200.79,57.37 L201.12,57.41 L201.46,57.47 L201.79,57.56 L202.12,57.67 L202.45,57.81 L202.79,57.97 L203.12,58.15 L203.45,58.34 L203.78,58.56 L204.12,58.79 L204.45,59.04 L204.78,59.30 L205.12,59.57 L205.45,59.86 L205.78,60.15 L206.11,60.46 L206.45,60.76 L206.78,61.08 L207.11,61.40 L207.45,61.72 L207.78,62.04 L208.11,62.37 L208.44,62.69 L208.78,63.01 L209.11,63.33 L209.44,63.64 L209.77,63.96 L210.11,64.26 L210.44,64.56 L210.77,64.85 L211.11,65.13 L211.44,65.41 L211.77,65.67 L212.10,65.93 L212.44,66.17 L212.77,66.41 L213.10,66.63 L213.43,66.84 L213.77,67.04 L214.10,67.22 L214.43,67.39 L214.77,67.55 L215.10,67.70 L215.43,67.83 L215.76,67.95 L216.10,68.05 L216.43,68.14 L216.76,68.22 L217.09,68.28 L217.43,68.33 L217.76,68.36 L218.09,68.38 L218.43,68.39 L218.76,68.38 L219.09,68.35 L219.42,68.32 L219.76,68.27 L220.09,68.20 L220.42,68.13 L220.75,68.03 L221.09,67.93 L221.42,67.82 L221.75,67.69 L222.09,67.55 L222.42,67.40 L222.75,67.23 L223.08,67.06 L223.42,66.88 L223.75,66.68 L224.08,66.48 L224.42,66.27 L224.75,66.05 L225.08,65.82 L225.41,65.59 L225.75,65.34 L226.08,65.09 L226.41,64.84 L226.74,64.58 L227.08,64.31 L227.41,64.05 L227.74,63.78 L228.08,63.50 L228.41,63.23 L228.74,62.95 L229.07,62.67 L229.41,62.40 L229.74,62.12 L230.07,61.85 L230.40,61.58 L230.74,61.31 L231.07,61.04 L231.40,60.78 L231.74,60.53 L232.07,60.28 L232.40,60.04 L232.73,59.81 L233.07,59.58 L233.40,59.36 L233.73,59.15 L234.06,58.95 L234.40,58.76 L234.73,58.58 L235.06,58.42 L235.40,58.26 L235.73,58.11 L236.06,57.98 L236.39,57.86 L236.73,57.75 L237.06,57.66 L237.39,57.58 L237.72,57.51 L238.06,57.45 L238.39,57.41 L238.72,57.38 L239.06,57.36 L239.39,57.36 L239.72,57.36 L240.05,57.38 L240.39,57.42 L240.72,57.46" fill="none" stroke="#ee1c1c" stroke-width="1.6" stroke-linejoin="round"/>
<path d="M293.70,138.24 L293.86,137.91 L294.03,137.56 L294.19,137.20 L294.35,136.84 L294.51,136.46 L294.68,136.07 L294.84,135.67 L295.00,135.25 L295.16,134.83 L295.33,134.39 L295.49,133.94 L295.65,133.47 L295.81,132.99 L295.98,132.50 L296.14,131.99 L296.30,131.47 L296.47,130.94 L296.63,130.39 L296.79,129.82 L296.95,129.24 L297.12,128.64 L297.28,128.03 L297.44,127.40 L297.60,126.75 L297.77,126.08 L297.93,125.40 L298.09,124.69 L298.26,123.97 L298.42,123.22 L298.58,122.46 L298.74,121.67 L298.91,120.86 L299.07,120.03 L299.23,119.18 L299.39,118.30 L299.56,117.40 L299.72,116.48 L299.88,115.53 L300.04,114.55 L300.21,113.54 L300.37,112.51 L300.53,111.45 L300.70,110.36 L300.86,109.24 L301.02,108.09 L301.18,106.91 L301.35,105.69 L301.51,104.45 L301.67,103.17 L301.83,101.85 L302.00,100.50 L302.16,99.12 L302.32,97.70 L302.49,96.25 L302.65,94.76 L302.81,93.24 L302.97,91.68 L303.14,90.08 L303.30,88.45 L303.46,86.79 L303.62,85.10 L303.79,83.38 L303.95,81.63 L304.11,79.86 L304.27,78.07 L304.44,76.26 L304.60,74.44 L304.76,72.61 L304.93,70.78 L305.09,68.97 L305.25,67.17 L305.41,65.39 L305.58,63.66 L305.74,61.97 L305.90,60.34 L306.06,58.79 L306.23,57.32 L306.39,55.96 L306.55,54.72 L306.72,53.60 L306.88,52.63 L307.04,51.82 L307.20,51.17 L307.37,50.69 L307.53,50.40 L307.69,50.30 L307.85,50.38 L308.02,50.66 L308.18,51.11 L308.34,51.75 L308.50,52.55 L308.67,53.51 L308.83,54.62 L308.99,55.86 L309.16,57.22 L309.32,58.69 L309.48,60.25 L309.64,61.88 L309.81,63.58 L309.97,65.34 L310.13,67.13 L310.29,68.95 L310.46,70.79 L310.62,72.64 L310.78,74.49 L310.94,76.33 L311.11,78.17 L311.27,79.99 L311.43,81.79 L311.60,83.57 L311.76,85.32 L311.92,87.04 L312.08,88.73 L312.25,90.38 L312.41,92.01 L312.57,93.59 L312.73,95.15 L312.90,96.66 L313.06,98.14 L313.22,99.59 L313.39,101.00 L313.55,102.37 L313.71,103.71 L313.87,105.01 L314.04,106.28 L314.20,107.52 L314.36,108.73 L314.52,109.90 L314.69,111.04 L314.85,112.16 L315.01,113.24 L315.17,114.29 L315.34,115.32 L315.50,116.32 L315.66,117.29 L315.83,118.24 L315.99,119.16 L316.15,120.05 L316.31,120.92 L316.48,121.77 L316.64,122.60 L316.80,123.40 L316.96,124.19 L317.13,124.95 L317.29,125.69 L317.45,126.41 L317.62,127.11 L317.78,127.80 L317.94,128.46 L318.10,129.11 L318.27,129.74 L318.43,130.35 L318.59,130.95 L318.75,131.53 L318.92,132.10 L319.08,132.65 L319.24,133.18 L319.40,133.70 L319.57,134.21 L319.73,134.70 L319.89,135.18 L320.06,135.65 L320.22,136.10 L320.38,136.54 L320.54,136.97 L320.71,137.38 L320.87,137.79 L321.03,138.18 L321.19,138.56 L321.36,138.93 L321.52,139.29 L321.68,139.64 L321.84,139.98 L322.01,140.30 L322.17,140.62 L322.33,140.93 L322.50,141.22 L322.66,141.51 L322.82,141.79 L322.98,142.06 L323.15,142.32 L323.31,142.57 L323.47,142.81 L323.63,143.04 L323.80,143.27 L323.96,143.48 L324.12,143.69 L324.29,143.89 L324.45,144.08 L324.61,144.26 L324.77,144.44 L324.94,144.60 L325.10,144.76 L325.26,144.91 L325.42,145.05 L325.59,145.19 L325.75,145.32 L325.91,145.44 L326.07,145.55 L326.24,145.65 L326.40,145.75 L326.56,145.84 L326.73,145.93 L326.89,146.00 L327.05,146.07 L327.21,146.13 L327.38,146.19 L327.54,146.23 L327.70,146.27 L327.86,146.31 L328.03,146.33 L328.19,146.35 L328.35,146.36 L328.52,146.37 L328.68,146.37 L328.84,146.36 L329.00,146.34 L329.17,146.32 L329.33,146.29 L329.49,146.25 L329.65,146.20 L329.82,146.15 L329.98,146.09 L330.14,146.03 L330.30,145.95 L330.47,145.87 L330.63,145.78 L330.79,145.69 L330.96,145.59 L331.12,145.47 L331.28,145.36 L331.44,145.23 L331.61,145.10 L331.77,144.96 L331.93,144.81 L332.09,144.65 L332.26,144.49 L332.42,144.31 L332.58,144.13 L332.75,143.95 L332.91,143.75 L333.07,143.54 L333.23,143.33 L333.40,143.10 L333.56,142.87 L333.72,142.63 L333.88,142.38 L334.05,142.12 L334.21,141.86 L334.37,141.58 L334.53,141.29 L334.70,140.99 L334.86,140.69 L335.02,140.37 L335.19,140.04 L335.35,139.70 L335.51,139.35 L335.67,138.99 L335.84,138.62 L336.00,138.24 L336.16,137.85 L336.32,137.44 L336.49,137.02 L336.65,136.59 L336.81,136.15 L336.97,135.69 L337.14,135.22 L337.30,134.74 L337.46,134.24 L337.63,133.73 L337.79,133.21 L337.95,132.66 L338.11,132.11 L338.28,131.54 L338.44,130.95 L338.60,130.34 L338.76,129.72 L338.93,129.08 L339.09,128.43 L339.25,127.75 L339.42,127.06 L339.58,126.34 L339.74,125.61 L339.90,124.86 L340.07,124.08 L340.23,123.28 L340.39,122.46 L340.55,121.62 L340.72,120.75 L340.88,119.86 L341.04,118.95 L341.20,118.01 L341.37,117.04 L341.53,116.04 L341.69,115.02 L341.86,113.97 L342.02,112.89 L342.18,111.78 L342.34,110.63 L342.51,109.46 L342.67,108.25 L342.83,107.01 L342.99,105.73 L343.16,104.42 L343.32,103.07 L343.48,101.69 L343.65,100.27 L343.81,98.81 L343.97,97.32 L344.13,95.79 L344.30,94.22 L344.46,92.61 L344.62,90.96 L344.78,89.28 L344.95,87.56 L345.11,85.81 L345.27,84.03 L345.43,82.22 L345.60,80.38 L345.76,78.52 L345.92,76.64 L346.09,74.75 L346.25,72.85 L346.41,70.95 L346.57,69.06 L346.74,67.19 L346.90,65.35 L347.06,63.55 L347.22,61.80 L347.39,60.12 L347.55,58.53 L347.71,57.03 L347.87,55.65 L348.04,54.39 L348.20,53.28 L348.36,52.33 L348.53,51.55 L348.69,50.95 L348.85,50.54 L349.01,50.33 L349.18,50.32 L349.34,50.52 L349.50,50.91 L349.66,51.51 L349.83,52.29 L349.99,53.25 L350.15,54.37 L350.32,55.64 L350.48,57.04 L350.64,58.56 L350.80,60.18 L350.97,61.89 L351.13,63.66 L351.29,65.49 L351.45,67.36 L351.62,69.26 L351.78,71.18 L351.94,73.11 L352.10,75.03 L352.27,76.96 L352.43,78.86 L352.59,80.75 L352.76,82.61 L352.92,84.45 L353.08,86.26 L353.24,88.03 L353.41,89.77 L353.57,91.47 L353.73,93.13 L353.89,94.76 L354.06,96.34 L354.22,97.89 L354.38,99.40 L354.55,100.87 L354.71,102.30 L354.87,103.70 L355.03,105.05 L355.20,106.37 L355.36,107.66 L355.52,108.91 L355.68,110.12 L355.85,111.31 L356.01,112.46 L356.17,113.58 L356.33,114.66 L356.50,115.72 L356.66,116.75 L356.82,117.75 L356.99,118.72 L357.15,119.66 L357.31,120.58 L357.47,121.48 L357.64,122.35 L357.80,123.19 L357.96,124.01 L358.12,124.81 L358.29,125.59 L358.45,126.34 L358.61,127.08 L358.78,127.79 L358.94,128.49 L359.10,129.17 L359.26,129.82 L359.43,130.46 L359.59,131.08 L359.75,131.69 L359.91,132.28 L360.08,132.85 L360.24,133.40 L360.40,133.94 L360.56,134.47 L360.73,134.98 L360.89,135.47 L361.05,135.96 L361.22,136.42 L361.38,136.88 L361.54,137.32 L361.70,137.75 L361.87,138.16 L362.03,138.57 L362.19,138.96 L362.35,139.34 L362.52,139.71 L362.68,140.07 L362.84,140.41 L363.00,140.75 L363.17,141.07 L363.33,141.39 L363.49,141.69 L363.66,141.99 L363.82,142.27 L363.98,142.55 L364.14,142.81 L364.31,143.07 L364.47,143.31 L364.63,143.55 L364.79,143.78 L364.96,144.00 L365.12,144.21 L365.28,144.41 L365.45,144.60 L365.61,144.79 L365.77,144.96 L365.93,145.13 L366.10,145.29 L366.26,145.44 L366.42,145.58 L366.58,145.72 L366.75,145.85 L366.91,145.97 L367.07,146.08 L367.23,146.18 L367.40,146.28 L367.56,146.37 L367.72,146.45 L367.89,146.53 L368.05,146.59 L368.21,146.65 L368.37,146.70 L368.54,146.75 L368.70,146.79 L368.86,146.82 L369.02,146.84 L369.19,146.85 L369.35,146.86 L369.51,146.86 L369.68,146.86 L369.84,146.84 L370.00,146.82 L370.16,146.79 L370.33,146.76 L370.49,146.71 L370.65,146.66 L370.81,146.61 L370.98,146.54 L371.14,146.47 L371.30,146.39 L371.46,146.30 L371.63,146.20 L371.79,146.10 L371.95,145.99 L372.12,145.87 L372.28,145.75 L372.44,145.61 L372.60,145.47 L372.77,145.32 L372.93,145.16 L373.09,144.99 L373.25,144.82 L373.42,144.64 L373.58,144.44 L373.74,144.24 L373.91,144.04 L374.07,143.82 L374.23,143.59 L374.39,143.36 L374.56,143.11 L374.72,142.86 L374.88,142.59 L375.04,142.32 L375.21,142.04 L375.37,141.74 L375.53,141.44 L375.69,141.13 L375.86,140.80 L376.02,140.47 L376.18,140.12 L376.35,139.76 L376.51,139.40 L376.67,139.02 L376.83,138.63 L377.00,138.22 L377.16,137.81 L377.32,137.38 L377.48,136.94 L377.65,136.48 L377.81,136.01 L377.97,135.53 L378.13,135.04 L378.30,134.52 L378.46,134.00 L378.62,133.46 L378.79,132.90 L378.95,132.33 L379.11,131.74 L379.27,131.14 L379.44,130.51 L379.60,129.87 L379.76,129.22 L379.92,128.54 L380.09,127.84 L380.25,127.12 L380.41,126.39 L380.58,125.63 L380.74,124.85 L380.90,124.05 L381.06,123.22 L381.23,122.38 L381.39,121.50 L381.55,120.61 L381.71,119.68 L381.88,118.73 L382.04,117.76 L382.20,116.75 L382.36,115.72 L382.53,114.65 L382.69,113.56 L382.85,112.43 L383.02,111.28 L383.18,110.09 L383.34,108.86 L383.50,107.60 L383.67,106.31 L383.83,104.98 L383.99,103.61 L384.15,102.20 L384.32,100.76 L384.48,99.27 L384.64,97.75 L384.81,96.19 L384.97,94.59 L385.13,92.95 L385.29,91.27 L385.46,89.55 L385.62,87.79 L385.78,86.00 L385.94,84.18 L386.11,82.33 L386.27,80.44 L386.43,78.54 L386.59,76.61 L386.76,74.67 L386.92,72.73 L387.08,70.79 L387.25,68.86 L387.41,66.95 L387.57,65.07 L387.73,63.23 L387.90,61.46 L388.06,59.76 L388.22,58.15 L388.38,56.65 L388.55,55.27 L388.71,54.03 L388.87,52.94 L389.03,52.03 L389.20,51.30 L389.36,50.76 L389.52,50.43 L389.69,50.30 L389.85,50.38 L390.01,50.67 L390.17,51.16 L390.34,51.85 L390.50,52.72 L390.66,53.76 L390.82,54.96 L390.99,56.30 L391.15,57.77 L391.31,59.34 L391.48,61.01 L391.64,62.76 L391.80,64.57 L391.96,66.42 L392.13,68.32 L392.29,70.23 L392.45,72.16 L392.61,74.10 L392.78,76.03 L392.94,77.95 L393.10,79.85 L393.26,81.73 L393.43,83.59 L393.59,85.41 L393.75,87.20 L393.92,88.96 L394.08,90.68 L394.24,92.37 L394.40,94.02 L394.57,95.62 L394.73,97.19 L394.89,98.72 L395.05,100.21 L395.22,101.67 L395.38,103.08 L395.54,104.46 L395.71,105.80 L395.87,107.10 L396.03,108.37 L396.19,109.60 L396.36,110.80 L396.52,111.96 L396.68,113.10 L396.84,114.20 L397.01,115.27 L397.17,116.31 L397.33,117.33 L397.49,118.31 L397.66,119.27 L397.82,120.20 L397.98,121.11 L398.15,121.99 L398.31,122.84 L398.47,123.67 L398.63,124.48 L398.80,125.27 L398.96,126.04 L399.12,126.78 L399.28,127.50 L399.45,128.21 L399.61,128.89 L399.77,129.56 L399.94,130.21 L400.10,130.83 L400.26,131.45 L400.42,132.04 L400.59,132.62 L400.75,133.18 L400.91,133.73 L401.07,134.26 L401.24,134.78 L401.40,135.28 L401.56,135.77 L401.72,136.24 L401.89,136.70 L402.05,137.15 L402.21,137.58 L402.38,138.01 L402.54,138.41 L402.70,138.81 L402.86,139.20 L403.03,139.57 L403.19,139.93 L403.35,140.28 L403.51,140.63 L403.68,140.95 L403.84,141.27 L404.00,141.58 L404.16,141.88 L404.33,142.17 L404.49,142.45 L404.65,142.72 L404.82,142.98 L404.98,143.23 L405.14,143.47 L405.30,143.70 L405.47,143.92 L405.63,144.14 L405.79,144.34 L405.95,144.54 L406.12,144.73 L406.28,144.91 L406.44,145.08 L406.61,145.24 L406.77,145.40 L406.93,145.55 L407.09,145.69 L407.26,145.82 L407.42,145.94 L407.58,146.06 L407.74,146.17 L407.91,146.27 L408.07,146.36 L408.23,146.44 L408.39,146.52 L408.56,146.59 L408.72,146.66 L408.88,146.71 L409.05,146.76 L409.21,146.80 L409.37,146.84 L409.53,146.86 L409.70,146.88 L409.86,146.90 L410.02,146.90 L410.18,146.90 L410.35,146.89 L410.51,146.87 L410.67,146.84 L410.84,146.81 L411.00,146.77 L411.16,146.72 L411.32,146.66 L411.49,146.60 L411.65,146.52 L411.81,146.44 L411.97,146.35 L412.14,146.26 L412.30,146.15 L412.46,146.04 L412.62,145.91 L412.79,145.78 L412.95,145.65 L413.11,145.50 L413.28,145.34 L413.44,145.18 L413.60,145.01 L413.76,144.83 L413.93,144.63 L414.09,144.44 L414.25,144.23 L414.41,144.01 L414.58,143.78 L414.74,143.54 L414.90,143.30 L415.06,143.04 L415.23,142.77 L415.39,142.50 L415.55,142.21 L415.72,141.91 L415.88,141.60 L416.04,141.29 L416.20,140.95 L416.37,140.61 L416.53,140.26 L416.69,139.90 L416.85,139.52 L417.02,139.13 L417.18,138.73 L417.34,138.31 L417.51,137.89 L417.67,137.45 L417.83,136.99 L417.99,136.52 L418.16,136.04 L418.32,135.54 L418.48,135.03 L418.64,134.50 L418.81,133.96 L418.97,133.40 L419.13,132.82 L419.29,132.23 L419.46,131.62 L419.62,130.99 L419.78,130.34 L419.95,129.68 L420.11,128.99 L420.27,128.28 L420.43,127.56 L420.60,126.81 L420.76,126.04 L420.92,125.25 L421.08,124.43 L421.25,123.59 L421.41,122.72 L421.57,121.83 L421.74,120.92 L421.90,119.97 L422.06,119.00 L422.22,118.00 L422.39,116.97 L422.55,115.91 L422.71,114.82 L422.87,113.70 L423.04,112.54 L423.20,111.35 L423.36,110.12 L423.52,108.86 L423.69,107.56 L423.85,106.22 L424.01,104.85 L424.18,103.43 L424.34,101.98 L424.50,100.48 L424.66,98.95 L424.83,97.37 L424.99,95.75 L425.15,94.08 L425.31,92.38 L425.48,90.63 L425.64,88.85 L425.80,87.02 L425.97,85.16 L426.13,83.27 L426.29,81.34 L426.45,79.39 L426.62,77.41 L426.78,75.42 L426.94,73.42 L427.10,71.42 L427.27,69.42 L427.43,67.45 L427.59,65.50 L427.75,63.60 L427.92,61.76 L428.08,60.00 L428.24,58.33 L428.41,56.77 L428.57,55.34 L428.73,54.05 L428.89,52.94 L429.06,52.00 L429.22,51.26 L429.38,50.72 L429.54,50.40 L429.71,50.30 L429.87,50.42 L430.03,50.74 L430.19,51.26 L430.36,51.98 L430.52,52.88 L430.68,53.96 L430.85,55.18 L431.01,56.55 L431.17,58.04 L431.33,59.64 L431.50,61.33 L431.66,63.10 L431.82,64.92 L431.98,66.79 L432.15,68.70 L432.31,70.62 L432.47,72.56 L432.64,74.50 L432.80,76.43 L432.96,78.35 L433.12,80.26 L433.29,82.14 L433.45,83.99 L433.61,85.81 L433.77,87.60 L433.94,89.36 L434.10,91.08 L434.26,92.76 L434.42,94.40 L434.59,96.00 L434.75,97.56 L434.91,99.09 L435.08,100.57 L435.24,102.02 L435.40,103.42 L435.56,104.79 L435.73,106.13 L435.89,107.42 L436.05,108.68 L436.21,109.91 L436.38,111.10 L436.54,112.26 L436.70,113.39 L436.87,114.49 L437.03,115.55 L437.19,116.59 L437.35,117.60 L437.52,118.57 L437.68,119.53 L437.84,120.45 L438.00,121.35 L438.17,122.23 L438.33,123.08 L438.49,123.90 L438.65,124.71 L438.82,125.49 L438.98,126.25 L439.14,126.99 L439.31,127.71 L439.47,128.40 L439.63,129.08 L439.79,129.75 L439.96,130.39 L440.12,131.01 L440.28,131.62 L440.44,132.21 L440.61,132.78 L440.77,133.34 L440.93,133.88 L441.09,134.41 L441.26,134.92 L441.42,135.42 L441.58,135.91 L441.75,136.38 L441.91,136.83 L442.07,137.28 L442.23,137.71 L442.40,138.12 L442.56,138.53 L442.72,138.92 L442.88,139.30 L443.05,139.67 L443.21,140.03 L443.37,140.38 L443.54,140.72 L443.70,141.04 L443.86,141.36 L444.02,141.66 L444.19,141.96 L444.35,142.24 L444.51,142.52 L444.67,142.79 L444.84,143.04 L445.00,143.29 L445.16,143.53 L445.32,143.75 L445.49,143.97 L445.65,144.19 L445.81,144.39 L445.98,144.58 L446.14,144.77 L446.30,144.94 L446.46,145.11 L446.63,145.27 L446.79,145.42 L446.95,145.57 L447.11,145.71 L447.28,145.83 L447.44,145.95 L447.60,146.07 L447.77,146.17 L447.93,146.27 L448.09,146.36 L448.25,146.44 L448.42,146.52 L448.58,146.59 L448.74,146.65 L448.90,146.70 L449.07,146.74 L449.23,146.78 L449.39,146.81 L449.55,146.84 L449.72,146.85 L449.88,146.86 L450.04,146.86 L450.21,146.86 L450.37,146.85 L450.53,146.83 L450.69,146.80 L450.86,146.76 L451.02,146.72 L451.18,146.67 L451.34,146.62 L451.51,146.55 L451.67,146.48 L451.83,146.40 L452.00,146.32 L452.16,146.22 L452.32,146.12 L452.48,146.01 L452.65,145.90 L452.81,145.77 L452.97,145.64 L453.13,145.50 L453.30,145.35 L453.46,145.19 L453.62,145.03 L453.78,144.86 L453.95,144.68 L454.11,144.49 L454.27,144.29 L454.44,144.09 L454.60,143.87 L454.76,143.65 L454.92,143.41 L455.09,143.17 L455.25,142.92 L455.41,142.66 L455.57,142.39 L455.74,142.11 L455.90,141.82 L456.06,141.52 L456.22,141.22 L456.39,140.90 L456.55,140.57 L456.71,140.23 L456.88,139.87 L457.04,139.51 L457.20,139.14 L457.36,138.75 L457.53,138.35 L457.69,137.94 L457.85,137.52 L458.01,137.09 L458.18,136.64 L458.34,136.18 L458.50,135.71 L458.67,135.22 L458.83,134.72 L458.99,134.20 L459.15,133.67 L459.32,133.12 L459.48,132.56 L459.64,131.98 L459.80,131.39 L459.97,130.78 L460.13,130.15 L460.29,129.50 L460.45,128.84 L460.62,128.15 L460.78,127.45 L460.94,126.73 L461.11,125.98 L461.27,125.22 L461.43,124.44 L461.59,123.63 L461.76,122.80 L461.92,121.94 L462.08,121.06 L462.24,120.16 L462.41,119.23 L462.57,118.28 L462.73,117.30 L462.90,116.29 L463.06,115.25 L463.22,114.18 L463.38,113.08 L463.55,111.95 L463.71,110.79 L463.87,109.60 L464.03,108.37 L464.20,107.11 L464.36,105.81 L464.52,104.48 L464.68,103.11 L464.85,101.70 L465.01,100.25 L465.17,98.77 L465.34,97.25 L465.50,95.69 L465.66,94.09 L465.82,92.45 L465.99,90.78 L466.15,89.07 L466.31,87.32 L466.47,85.54 L466.64,83.73 L466.80,81.88 L466.96,80.01 L467.13,78.12 L467.29,76.21 L467.45,74.29 L467.61,72.37 L467.78,70.45 L467.94,68.54 L468.10,66.66 L468.26,64.80 L468.43,63.00 L468.59,61.25 L468.75,59.58 L468.91,58.00 L469.08,56.52 L469.24,55.17 L469.40,53.96 L469.57,52.89 L469.73,52.00 L469.89,51.28 L470.05,50.75 L470.22,50.43 L470.38,50.30 L470.54,50.38 L470.70,50.65 L470.87,51.11 L471.03,51.75 L471.19,52.57 L471.35,53.55 L471.52,54.68 L471.68,55.95 L471.84,57.34 L472.01,58.84 L472.17,60.43 L472.33,62.10 L472.49,63.83 L472.66,65.61 L472.82,67.43 L472.98,69.27 L473.14,71.14 L473.31,73.01 L473.47,74.88 L473.63,76.74 L473.80,78.59 L473.96,80.43 L474.12,82.24 L474.28,84.03 L474.45,85.78 L474.61,87.51 L474.77,89.20 L474.93,90.86 L475.10,92.49 L475.26,94.08 L475.42,95.63 L475.58,97.14 L475.75,98.62 L475.91,100.06 L476.07,101.47 L476.24,102.84 L476.40,104.17 L476.56,105.47 L476.72,106.73 L476.89,107.97 L477.05,109.16 L477.21,110.33 L477.37,111.47 L477.54,112.57 L477.70,113.65 L477.86,114.69 L478.03,115.71 L478.19,116.70 L478.35,117.66 L478.51,118.60 L478.68,119.51 L478.84,120.40 L479.00,121.26 L479.16,122.10 L479.33,122.92 L479.49,123.72 L479.65,124.49 L479.81,125.25 L479.98,125.98 L480.14,126.69 L480.30,127.39 L480.47,128.06 L480.63,128.72 L480.79,129.36 L480.95,129.98 L481.12,130.59 L481.28,131.18 L481.44,131.75 L481.60,132.31 L481.77,132.85 L481.93,133.38 L482.09,133.89 L482.25,134.39 L482.42,134.88 L482.58,135.35 L482.74,135.81 L482.91,136.26 L483.07,136.69 L483.23,137.11 L483.39,137.52 L483.56,137.92 L483.72,138.31 L483.88,138.68 L484.04,139.05 L484.21,139.40 L484.37,139.74 L484.53,140.07 L484.70,140.40 L484.86,140.71 L485.02,141.01 L485.18,141.30 L485.35,141.59 L485.51,141.86 L485.67,142.12 L485.83,142.38 L486.00,142.62 L486.16,142.86 L486.32,143.09 L486.48,143.31 L486.65,143.52 L486.81,143.73 L486.97,143.92 L487.14,144.11 L487.30,144.29 L487.46,144.46 L487.62,144.62 L487.79,144.78 L487.95,144.93 L488.11,145.07 L488.27,145.20 L488.44,145.33 L488.60,145.45 L488.76,145.56 L488.93,145.66 L489.09,145.76 L489.25,145.85 L489.41,145.93 L489.58,146.00 L489.74,146.07 L489.90,146.13 L490.06,146.18 L490.23,146.23 L490.39,146.27 L490.55,146.30 L490.71,146.33 L490.88,146.35 L491.04,146.36 L491.20,146.37 L491.37,146.37 L491.53,146.36 L491.69,146.34 L491.85,146.32 L492.02,146.29 L492.18,146.26 L492.34,146.22 L492.50,146.17 L492.67,146.11 L492.83,146.05 L492.99,145.98 L493.16,145.90 L493.32,145.81 L493.48,145.72 L493.64,145.62 L493.81,145.52 L493.97,145.41 L494.13,145.29 L494.29,145.16 L494.46,145.02 L494.62,144.88 L494.78,144.73 L494.94,144.57 L495.11,144.41 L495.27,144.23 L495.43,144.05 L495.60,143.86 L495.76,143.67 L495.92,143.46 L496.08,143.25 L496.25,143.03 L496.41,142.80 L496.57,142.56 L496.73,142.31 L496.90,142.06 L497.06,141.79 L497.22,141.52 L497.38,141.23 L497.55,140.94 L497.71,140.64 L497.87,140.33 L498.04,140.01 L498.20,139.67 L498.36,139.33 L498.52,138.98 L498.69,138.62 L498.85,138.24 L499.01,137.86 L499.17,137.46 L499.34,137.05 L499.50,136.63 L499.66,136.20 L499.83,135.76 L499.99,135.30 L500.15,134.83 L500.31,134.35 L500.48,133.86 L500.64,133.35 L500.80,132.83 L500.96,132.29 L501.13,131.74 L501.29,131.17 L501.45,130.59 L501.61,129.99 L501.78,129.37 L501.94,128.74 L502.10,128.09 L502.27,127.43 L502.43,126.75 L502.59,126.04 L502.75,125.32 L502.92,124.58 L503.08,123.82 L503.24,123.04 L503.40,122.24 L503.57,121.41 L503.73,120.57 L503.89,119.70 L504.06,118.81 L504.22,117.89 L504.38,116.95 L504.54,115.98 L504.71,114.99 L504.87,113.97 L505.03,112.92 L505.19,111.84 L505.36,110.74 L505.52,109.60 L505.68,108.44 L505.84,107.24 L506.01,106.02 L506.17,104.76 L506.33,103.46 L506.50,102.14 L506.66,100.78 L506.82,99.38 L506.98,97.96 L507.15,96.49 L507.31,94.99 L507.47,93.46 L507.63,91.89 L507.80,90.29 L507.96,88.66 L508.12,86.99 L508.28,85.30 L508.45,83.57 L508.61,81.82 L508.77,80.05 L508.94,78.25 L509.10,76.44 L509.26,74.62 L509.42,72.80 L509.59,70.97 L509.75,69.16 L509.91,67.36 L510.07,65.59 L510.24,63.86 L510.40,62.17 L510.56,60.55 L510.73,58.99 L510.89,57.53 L511.05,56.16 L511.21,54.91 L511.38,53.78 L511.54,52.79 L511.70,51.96 L511.86,51.28 L512.03,50.78 L512.19,50.45 L512.35,50.31 L512.51,50.35 L512.68,50.56 L512.84,50.96 L513.00,51.54 L513.17,52.27 L513.33,53.17 L513.49,54.21 L513.65,55.38 L513.82,56.67 L513.98,58.06 L514.14,59.55 L514.30,61.12 L514.47,62.75 L514.63,64.44 L514.79,66.17 L514.96,67.93 L515.12,69.72 L515.28,71.51 L515.44,73.31 L515.61,75.11 L515.77,76.90 L515.93,78.68 L516.09,80.44 L516.26,82.18 L516.42,83.90 L516.58,85.59 L516.74,87.25 L516.91,88.87 L517.07,90.47 L517.23,92.03 L517.40,93.56 L517.56,95.06 L517.72,96.52 L517.88,97.95 L518.05,99.34 L518.21,100.70 L518.37,102.02 L518.53,103.31 L518.70,104.57 L518.86,105.80 L519.02,106.99 L519.19,108.15 L519.35,109.29 L519.51,110.39 L519.67,111.46 L519.84,112.51 L520.00,113.53 L520.16,114.52 L520.32,115.48 L520.49,116.42 L520.65,117.34 L520.81,118.23 L520.97,119.09 L521.14,119.94 L521.30,120.76" fill="none" stroke="#f03434" stroke-width="1.05" stroke-linejoin="round"/>
<rect x="6.18" y="53.35" width="3.9" height="3.9" fill="#000"/>
<rect x="11.99" y="50.45" width="3.9" height="3.9" fill="#000"/>
<rect x="17.81" y="73.95" width="3.9" height="3.9" fill="#000"/>
<rect x="23.62" y="57.85" width="3.9" height="3.9" fill="#000"/>
<rect x="29.44" y="54.15" width="3.9" height="3.9" fill="#000"/>
<rect x="35.25" y="67.75" width="3.9" height="3.9" fill="#000"/>
<rect x="41.07" y="72.25" width="3.9" height="3.9" fill="#000"/>
<rect x="46.88" y="66.05" width="3.9" height="3.9" fill="#000"/>
<rect x="52.7" y="56.65" width="3.9" height="3.9" fill="#000"/>
<rect x="58.51" y="56.65" width="3.9" height="3.9" fill="#000"/>
<rect x="64.33" y="75.45" width="3.9" height="3.9" fill="#000"/>
<rect x="70.14" y="79.45" width="3.9" height="3.9" fill="#000"/>
<rect x="75.96" y="73.45" width="3.9" height="3.9" fill="#000"/>
<rect x="81.77" y="48.15" width="3.9" height="3.9" fill="#000"/>
<rect x="87.59" y="70.75" width="3.9" height="3.9" fill="#000"/>
<rect x="93.4" y="67.75" width="3.9" height="3.9" fill="#000"/>
<rect x="99.22" y="79.95" width="3.9" height="3.9" fill="#000"/>
<rect x="105.03" y="117.75" width="3.9" height="3.9" fill="#000"/>
<rect x="110.85" y="139.85" width="3.9" height="3.9" fill="#000"/>
<rect x="116.66" y="150.95" width="3.9" height="3.9" fill="#000"/>
<rect x="122.47" y="141.55" width="3.9" height="3.9" fill="#000"/>
<rect x="128.29" y="125.15" width="3.9" height="3.9" fill="#000"/>
<rect x="134.1" y="145.25" width="3.9" height="3.9" fill="#000"/>
<rect x="139.92" y="125.15" width="3.9" height="3.9" fill="#000"/>
<rect x="145.73" y="104.35" width="3.9" height="3.9" fill="#000"/>
<rect x="151.55" y="69.05" width="3.9" height="3.9" fill="#000"/>
<rect x="157.36" y="52.65" width="3.9" height="3.9" fill="#000"/>
<rect x="163.18" y="45.95" width="3.9" height="3.9" fill="#000"/>
<rect x="168.99" y="82.15" width="3.9" height="3.9" fill="#000"/>
<rect x="174.81" y="87.75" width="3.9" height="3.9" fill="#000"/>
<rect x="180.62" y="79.65" width="3.9" height="3.9" fill="#000"/>
<rect x="186.44" y="73.25" width="3.9" height="3.9" fill="#000"/>
<rect x="192.25" y="39.85" width="3.9" height="3.9" fill="#000"/>
<rect x="198.07" y="57.05" width="3.9" height="3.9" fill="#000"/>
<rect x="203.88" y="58.75" width="3.9" height="3.9" fill="#000"/>
<rect x="209.7" y="72.95" width="3.9" height="3.9" fill="#000"/>
<rect x="215.51" y="74.95" width="3.9" height="3.9" fill="#000"/>
<rect x="221.33" y="55.45" width="3.9" height="3.9" fill="#000"/>
<rect x="227.14" y="71.45" width="3.9" height="3.9" fill="#000"/>
<rect x="232.95" y="46.95" width="3.9" height="3.9" fill="#000"/>
<rect x="238.77" y="57.15" width="3.9" height="3.9" fill="#000"/>
<rect x="291.88" y="132.95" width="3.7" height="3.7" fill="#000"/>
<rect x="297.57" y="134.95" width="3.7" height="3.7" fill="#000"/>
<rect x="303.26" y="58.15" width="3.7" height="3.7" fill="#000"/>
<rect x="320.32" y="90.35" width="3.7" height="3.7" fill="#000"/>
<rect x="326.01" y="137.25" width="3.7" height="3.7" fill="#000"/>
<rect x="331.69" y="140.35" width="3.7" height="3.7" fill="#000"/>
<rect x="337.38" y="127.45" width="3.7" height="3.7" fill="#000"/>
<rect x="343.07" y="51.25" width="3.7" height="3.7" fill="#000"/>
<rect x="348.75" y="79.15" width="3.7" height="3.7" fill="#000"/>
<rect x="360.13" y="139.15" width="3.7" height="3.7" fill="#000"/>
<rect x="365.82" y="152.25" width="3.7" height="3.7" fill="#000"/>
<rect x="371.5" y="142.15" width="3.7" height="3.7" fill="#000"/>
<rect x="377.19" y="137.95" width="3.7" height="3.7" fill="#000"/>
<rect x="382.88" y="82.95" width="3.7" height="3.7" fill="#000"/>
<rect x="388.57" y="50.95" width="3.7" height="3.7" fill="#000"/>
<rect x="394.25" y="130.45" width="3.7" height="3.7" fill="#000"/>
<rect x="399.94" y="137.75" width="3.7" height="3.7" fill="#000"/>
<rect x="405.63" y="151.95" width="3.7" height="3.7" fill="#000"/>
<rect x="411.31" y="145.35" width="3.7" height="3.7" fill="#000"/>
<rect x="417" y="134.95" width="3.7" height="3.7" fill="#000"/>
<rect x="428.38" y="39.75" width="3.7" height="3.7" fill="#000"/>
<rect x="439.75" y="131.25" width="3.7" height="3.7" fill="#000"/>
<rect x="445.44" y="155.45" width="3.7" height="3.7" fill="#000"/>
<rect x="451.12" y="146.55" width="3.7" height="3.7" fill="#000"/>
<rect x="456.81" y="143.05" width="3.7" height="3.7" fill="#000"/>
<rect x="462.5" y="112.15" width="3.7" height="3.7" fill="#000"/>
<rect x="468.19" y="68.05" width="3.7" height="3.7" fill="#000"/>
<rect x="473.87" y="110.15" width="3.7" height="3.7" fill="#000"/>
<rect x="479.56" y="105.65" width="3.7" height="3.7" fill="#000"/>
<rect x="485.25" y="153.85" width="3.7" height="3.7" fill="#000"/>
<rect x="490.94" y="101.35" width="3.7" height="3.7" fill="#000"/>
<rect x="496.62" y="137.95" width="3.7" height="3.7" fill="#000"/>
<rect x="502.31" y="124.25" width="3.7" height="3.7" fill="#000"/>
<rect x="508" y="69.85" width="3.7" height="3.7" fill="#000"/>
<rect x="513.68" y="47.65" width="3.7" height="3.7" fill="#000"/>
<rect x="519.37" y="132.25" width="3.7" height="3.7" fill="#000"/>
<rect x="288.3" y="3.6" width="242.8" height="203.9" fill="none" stroke="#404040" stroke-width="1.05"/>
<line x1="295.86" y1="207.5" x2="295.86" y2="203.8" stroke="#404040" stroke-width="1.0"/>
<line x1="295.86" y1="3.6" x2="295.86" y2="7.3" stroke="#404040" stroke-width="1.0"/>
<line x1="314.81" y1="207.5" x2="314.81" y2="205.4" stroke="#404040" stroke-width="1.0"/>
<line x1="314.81" y1="3.6" x2="314.81" y2="5.7" stroke="#404040" stroke-width="1.0"/>
<line x1="333.77" y1="207.5" x2="333.77" y2="203.8" stroke="#404040" stroke-width="1.0"/>
<line x1="333.77" y1="3.6" x2="333.77" y2="7.3" stroke="#404040" stroke-width="1.0"/>
<line x1="352.73" y1="207.5" x2="352.73" y2="205.4" stroke="#404040" stroke-width="1.0"/>
<line x1="352.73" y1="3.6" x2="352.73" y2="5.7" stroke="#404040" stroke-width="1.0"/>
<line x1="371.69" y1="207.5" x2="371.69" y2="203.8" stroke="#404040" stroke-width="1.0"/>
<line x1="371.69" y1="3.6" x2="371.69" y2="7.3" stroke="#404040" stroke-width="1.0"/>
<line x1="390.64" y1="207.5" x2="390.64" y2="205.4" stroke="#404040" stroke-width="1.0"/>
<line x1="390.64" y1="3.6" x2="390.64" y2="5.7" stroke="#404040" stroke-width="1.0"/>
<line x1="409.6" y1="207.5" x2="409.6" y2="203.8" stroke="#404040" stroke-width="1.0"/>
<line x1="409.6" y1="3.6" x2="409.6" y2="7.3" stroke="#404040" stroke-width="1.0"/>
<line x1="428.56" y1="207.5" x2="428.56" y2="205.4" stroke="#404040" stroke-width="1.0"/>
<line x1="428.56" y1="3.6" x2="428.56" y2="5.7" stroke="#404040" stroke-width="1.0"/>
<line x1="447.52" y1="207.5" x2="447.52" y2="203.8" stroke="#404040" stroke-width="1.0"/>
<line x1="447.52" y1="3.6" x2="447.52" y2="7.3" stroke="#404040" stroke-width="1.0"/>
<line x1="466.47" y1="207.5" x2="466.47" y2="205.4" stroke="#404040" stroke-width="1.0"/>
<line x1="466.47" y1="3.6" x2="466.47" y2="5.7" stroke="#404040" stroke-width="1.0"/>
<line x1="485.43" y1="207.5" x2="485.43" y2="203.8" stroke="#404040" stroke-width="1.0"/>
<line x1="485.43" y1="3.6" x2="485.43" y2="7.3" stroke="#404040" stroke-width="1.0"/>
<line x1="504.39" y1="207.5" x2="504.39" y2="205.4" stroke="#404040" stroke-width="1.0"/>
<line x1="504.39" y1="3.6" x2="504.39" y2="5.7" stroke="#404040" stroke-width="1.0"/>
<line x1="523.35" y1="207.5" x2="523.35" y2="203.8" stroke="#404040" stroke-width="1.0"/>
<line x1="523.35" y1="3.6" x2="523.35" y2="7.3" stroke="#404040" stroke-width="1.0"/>
<line x1="288.3" y1="11.44" x2="290.4" y2="11.44" stroke="#404040" stroke-width="1.0"/>
<line x1="531.1" y1="11.44" x2="529" y2="11.44" stroke="#404040" stroke-width="1.0"/>
<line x1="288.3" y1="19.28" x2="292" y2="19.28" stroke="#404040" stroke-width="1.0"/>
<line x1="531.1" y1="19.28" x2="527.4" y2="19.28" stroke="#404040" stroke-width="1.0"/>
<line x1="288.3" y1="27.13" x2="290.4" y2="27.13" stroke="#404040" stroke-width="1.0"/>
<line x1="531.1" y1="27.13" x2="529" y2="27.13" stroke="#404040" stroke-width="1.0"/>
<line x1="288.3" y1="34.97" x2="292" y2="34.97" stroke="#404040" stroke-width="1.0"/>
<line x1="531.1" y1="34.97" x2="527.4" y2="34.97" stroke="#404040" stroke-width="1.0"/>
<line x1="288.3" y1="42.81" x2="290.4" y2="42.81" stroke="#404040" stroke-width="1.0"/>
<line x1="531.1" y1="42.81" x2="529" y2="42.81" stroke="#404040" stroke-width="1.0"/>
<line x1="288.3" y1="50.65" x2="292" y2="50.65" stroke="#404040" stroke-width="1.0"/>
<line x1="531.1" y1="50.65" x2="527.4" y2="50.65" stroke="#404040" stroke-width="1.0"/>
<line x1="288.3" y1="58.5" x2="290.4" y2="58.5" stroke="#404040" stroke-width="1.0"/>
<line x1="531.1" y1="58.5" x2="529" y2="58.5" stroke="#404040" stroke-width="1.0"/>
<line x1="288.3" y1="66.34" x2="292" y2="66.34" stroke="#404040" stroke-width="1.0"/>
<line x1="531.1" y1="66.34" x2="527.4" y2="66.34" stroke="#404040" stroke-width="1.0"/>
<line x1="288.3" y1="74.18" x2="290.4" y2="74.18" stroke="#404040" stroke-width="1.0"/>
<line x1="531.1" y1="74.18" x2="529" y2="74.18" stroke="#404040" stroke-width="1.0"/>
<line x1="288.3" y1="82.02" x2="292" y2="82.02" stroke="#404040" stroke-width="1.0"/>
<line x1="531.1" y1="82.02" x2="527.4" y2="82.02" stroke="#404040" stroke-width="1.0"/>
<line x1="288.3" y1="89.87" x2="290.4" y2="89.87" stroke="#404040" stroke-width="1.0"/>
<line x1="531.1" y1="89.87" x2="529" y2="89.87" stroke="#404040" stroke-width="1.0"/>
<line x1="288.3" y1="97.71" x2="292" y2="97.71" stroke="#404040" stroke-width="1.0"/>
<line x1="531.1" y1="97.71" x2="527.4" y2="97.71" stroke="#404040" stroke-width="1.0"/>
<line x1="288.3" y1="105.55" x2="290.4" y2="105.55" stroke="#404040" stroke-width="1.0"/>
<line x1="531.1" y1="105.55" x2="529" y2="105.55" stroke="#404040" stroke-width="1.0"/>
<line x1="288.3" y1="113.39" x2="292" y2="113.39" stroke="#404040" stroke-width="1.0"/>
<line x1="531.1" y1="113.39" x2="527.4" y2="113.39" stroke="#404040" stroke-width="1.0"/>
<line x1="288.3" y1="121.23" x2="290.4" y2="121.23" stroke="#404040" stroke-width="1.0"/>
<line x1="531.1" y1="121.23" x2="529" y2="121.23" stroke="#404040" stroke-width="1.0"/>
<line x1="288.3" y1="129.08" x2="292" y2="129.08" stroke="#404040" stroke-width="1.0"/>
<line x1="531.1" y1="129.08" x2="527.4" y2="129.08" stroke="#404040" stroke-width="1.0"/>
<line x1="288.3" y1="136.92" x2="290.4" y2="136.92" stroke="#404040" stroke-width="1.0"/>
<line x1="531.1" y1="136.92" x2="529" y2="136.92" stroke="#404040" stroke-width="1.0"/>
<line x1="288.3" y1="144.76" x2="292" y2="144.76" stroke="#404040" stroke-width="1.0"/>
<line x1="531.1" y1="144.76" x2="527.4" y2="144.76" stroke="#404040" stroke-width="1.0"/>
<line x1="288.3" y1="152.6" x2="290.4" y2="152.6" stroke="#404040" stroke-width="1.0"/>
<line x1="531.1" y1="152.6" x2="529" y2="152.6" stroke="#404040" stroke-width="1.0"/>
<line x1="288.3" y1="160.45" x2="292" y2="160.45" stroke="#404040" stroke-width="1.0"/>
<line x1="531.1" y1="160.45" x2="527.4" y2="160.45" stroke="#404040" stroke-width="1.0"/>
<line x1="288.3" y1="168.29" x2="290.4" y2="168.29" stroke="#404040" stroke-width="1.0"/>
<line x1="531.1" y1="168.29" x2="529" y2="168.29" stroke="#404040" stroke-width="1.0"/>
<line x1="288.3" y1="176.13" x2="292" y2="176.13" stroke="#404040" stroke-width="1.0"/>
<line x1="531.1" y1="176.13" x2="527.4" y2="176.13" stroke="#404040" stroke-width="1.0"/>
<line x1="288.3" y1="183.97" x2="290.4" y2="183.97" stroke="#404040" stroke-width="1.0"/>
<line x1="531.1" y1="183.97" x2="529" y2="183.97" stroke="#404040" stroke-width="1.0"/>
<line x1="288.3" y1="191.82" x2="292" y2="191.82" stroke="#404040" stroke-width="1.0"/>
<line x1="531.1" y1="191.82" x2="527.4" y2="191.82" stroke="#404040" stroke-width="1.0"/>
<line x1="288.3" y1="199.66" x2="290.4" y2="199.66" stroke="#404040" stroke-width="1.0"/>
<line x1="531.1" y1="199.66" x2="529" y2="199.66" stroke="#404040" stroke-width="1.0"/>
<text x="8.91" y="220" font-size="8" text-anchor="middle"  >-15</text>
<text x="295.86" y="218.3" font-size="8" text-anchor="middle"  >-15</text>
<text x="47.67" y="220" font-size="8" text-anchor="middle"  >-10</text>
<text x="333.77" y="218.3" font-size="8" text-anchor="middle"  >-10</text>
<text x="86.44" y="220" font-size="8" text-anchor="middle"  >-5</text>
<text x="371.69" y="218.3" font-size="8" text-anchor="middle"  >-5</text>
<text x="125.2" y="220" font-size="8" text-anchor="middle"  >0</text>
<text x="409.6" y="218.3" font-size="8" text-anchor="middle"  >0</text>
<text x="163.97" y="220" font-size="8" text-anchor="middle"  >5</text>
<text x="447.52" y="218.3" font-size="8" text-anchor="middle"  >5</text>
<text x="202.73" y="220" font-size="8" text-anchor="middle"  >10</text>
<text x="485.43" y="218.3" font-size="8" text-anchor="middle"  >10</text>
<text x="241.5" y="220" font-size="8" text-anchor="middle"  >15</text>
<text x="523.35" y="218.3" font-size="8" text-anchor="middle"  >15</text>
<text x="284.6" y="6.1" font-size="8" text-anchor="end"  >480</text>
<text x="284.6" y="21.78" font-size="8" text-anchor="end"  >460</text>
<text x="284.6" y="37.47" font-size="8" text-anchor="end"  >440</text>
<text x="284.6" y="53.15" font-size="8" text-anchor="end"  >420</text>
<text x="284.6" y="68.84" font-size="8" text-anchor="end"  >400</text>
<text x="284.6" y="84.52" font-size="8" text-anchor="end"  >380</text>
<text x="284.6" y="100.21" font-size="8" text-anchor="end"  >360</text>
<text x="284.6" y="115.89" font-size="8" text-anchor="end"  >340</text>
<text x="284.6" y="131.58" font-size="8" text-anchor="end"  >320</text>
<text x="284.6" y="147.26" font-size="8" text-anchor="end"  >300</text>
<text x="284.6" y="162.95" font-size="8" text-anchor="end"  >280</text>
<text x="284.6" y="178.63" font-size="8" text-anchor="end"  >260</text>
<text x="284.6" y="194.32" font-size="8" text-anchor="end"  >240</text>
<text x="284.6" y="210" font-size="8" text-anchor="end"  >220</text>
<rect x="15.25" y="187.35" width="4.5" height="4.5" fill="#000"/>
<line x1="6" y1="202.6" x2="29.2" y2="202.6" stroke="#ee1c1c" stroke-width="1.5"/>
<text x="31.8" y="193.9" font-size="10" text-anchor="start"  >data points</text>
<text x="31.8" y="205.7" font-size="10" text-anchor="start"  >theoretical line shape</text>
<rect x="297.55" y="184.35" width="4.3" height="4.3" fill="#000"/>
<line x1="289" y1="199.4" x2="310.2" y2="199.4" stroke="#ee1c1c" stroke-width="1.2"/>
<text x="313.1" y="190.4" font-size="9.85" text-anchor="start"  >data points</text>
<text x="313.1" y="202.6" font-size="9.8" text-anchor="start"  >theoretical line shape</text>
<text x="113" y="30.2" font-size="11.5"><tspan font-size="7.2" dy="-6.8">82</tspan><tspan dy="6.8">Zn</tspan></text>
<text x="398" y="32.3" font-size="11.5"><tspan font-size="7.2" dy="-6.8">82</tspan><tspan dy="6.8">Zn</tspan></text>
<text x="176.2" y="181.2" font-size="17.3" text-anchor="start"  style="stroke-width:0.15px">200 ms</text>
<text x="416.5" y="194.3" font-size="17.2" text-anchor="start"  style="stroke-width:0.15px">20-160-20 ms</text>
<text x="27" y="237" font-size="11"><tspan font-style="italic">excitation frequency </tspan><tspan font-style="italic" font-size="9.90" dx="2.2">ν</tspan><tspan font-style="italic" font-size="6.60" dy="4.0" dx="-0.4">rf</tspan><tspan dy="-4.0" dx="-0.6" font-size="11"> - 1107794.1 / Hz</tspan></text>
<text x="310.6" y="234.8" font-size="10.85"><tspan font-style="italic">excitation frequency </tspan><tspan font-style="italic" font-size="9.77" dx="1.3">ν</tspan><tspan font-style="italic" font-size="6.51" dy="4.4" dx="-0.4">rf</tspan><tspan dy="-4.4" dx="-0.6" font-size="11"> - 1107794.28 / Hz</tspan></text>
<text transform="translate(265.4,113.4) rotate(-90)" font-size="11" text-anchor="middle"><tspan font-style="italic">time of flight / </tspan>μs</text>
</svg>
</body></html>
